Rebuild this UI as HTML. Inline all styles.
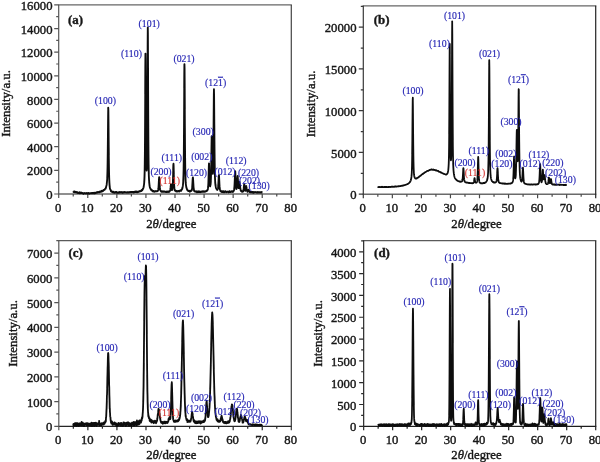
<!DOCTYPE html>
<html><head><meta charset="utf-8"><title>XRD patterns</title>
<style>
html,body{margin:0;padding:0;background:#fff;}
body{width:600px;height:462px;overflow:hidden;font-family:"Liberation Serif",serif;}
svg{display:block;}
text{font-family:"Liberation Serif",serif;fill:#161616;stroke:#161616;stroke-width:0.38px;}
.tk text{font-size:12.7px;}
.ax{font-size:12.8px;}
.tag{font-size:12.9px;font-weight:bold;}
.lb{font-size:9.8px;stroke-width:0.15px;}
.b{fill:#2626b4;stroke:#2626b4;}
.r{fill:#d63a36;stroke:#d63a36;}
.ov{text-decoration:overline;}
</style></head><body>
<svg width="600" height="462" viewBox="0 0 600 462">
<defs><filter id="sf" x="-5%" y="-5%" width="110%" height="110%"><feGaussianBlur stdDeviation="0.32"/></filter></defs>
<rect width="600" height="462" fill="#fff"/>
<g filter="url(#sf)"><g fill="none" stroke-width="1.2">
<path d="M58.10 4.90H291.90" stroke="#666" stroke-width="1.35"/>
<path d="M58.10 194.00H291.90" stroke="#6a6a6a" stroke-width="1.35"/>
<path d="M58.70 4.90V198.00" stroke="#555"/>
<path d="M291.30 4.90V198.00" stroke="#444"/>
<path d="M73.24 194.00v2.5M87.78 194.00v4.0M102.31 194.00v2.5M116.85 194.00v4.0M131.39 194.00v2.5M145.93 194.00v4.0M160.46 194.00v2.5M175.00 194.00v4.0M189.54 194.00v2.5M204.08 194.00v4.0M218.61 194.00v2.5M233.15 194.00v4.0M247.69 194.00v2.5M262.23 194.00v4.0M276.76 194.00v2.5" stroke="#4a4a4a"/>
<path d="M58.70 194.00h-4.5M58.70 182.18h-2.5M58.70 170.36h-4.5M58.70 158.54h-2.5M58.70 146.72h-4.5M58.70 134.91h-2.5M58.70 123.09h-4.5M58.70 111.27h-2.5M58.70 99.45h-4.5M58.70 87.63h-2.5M58.70 75.81h-4.5M58.70 63.99h-2.5M58.70 52.17h-4.5M58.70 40.35h-2.5M58.70 28.53h-4.5M58.70 16.72h-2.5M58.70 4.90h-4.5" stroke="#555"/>
</g>
<g class="tk">
<text transform="translate(58.10 211.90) scale(1 1.050)" text-anchor="middle">0</text>
<text transform="translate(87.18 211.90) scale(1 1.050)" text-anchor="middle">10</text>
<text transform="translate(116.25 211.90) scale(1 1.050)" text-anchor="middle">20</text>
<text transform="translate(145.33 211.90) scale(1 1.050)" text-anchor="middle">30</text>
<text transform="translate(174.40 211.90) scale(1 1.050)" text-anchor="middle">40</text>
<text transform="translate(203.48 211.90) scale(1 1.050)" text-anchor="middle">50</text>
<text transform="translate(232.55 211.90) scale(1 1.050)" text-anchor="middle">60</text>
<text transform="translate(261.62 211.90) scale(1 1.050)" text-anchor="middle">70</text>
<text transform="translate(290.70 211.90) scale(1 1.050)" text-anchor="middle">80</text>
<text transform="translate(52.50 199.10) scale(1 1.050)" text-anchor="end">0</text>
<text transform="translate(52.50 175.46) scale(1 1.050)" text-anchor="end">2000</text>
<text transform="translate(52.50 151.82) scale(1 1.050)" text-anchor="end">4000</text>
<text transform="translate(52.50 128.19) scale(1 1.050)" text-anchor="end">6000</text>
<text transform="translate(52.50 104.55) scale(1 1.050)" text-anchor="end">8000</text>
<text transform="translate(52.50 80.91) scale(1 1.050)" text-anchor="end">10000</text>
<text transform="translate(52.50 57.27) scale(1 1.050)" text-anchor="end">12000</text>
<text transform="translate(52.50 33.63) scale(1 1.050)" text-anchor="end">14000</text>
<text transform="translate(52.50 10.00) scale(1 1.050)" text-anchor="end">16000</text>
</g>
<text class="ax" transform="translate(171.3 227.5) scale(1 1.050)" text-anchor="middle">2<tspan font-style="italic">θ</tspan>/degree</text>
<text class="ax" transform="translate(10.0 103.5) rotate(-90) scale(1 1.050)" text-anchor="middle">Intensity/a.u.</text>
<polyline points="73.24,191.31 73.35,191.32 73.47,191.81 73.59,191.92 73.70,192.01 73.82,191.81 73.94,191.87 74.05,191.86 74.17,191.93 74.28,192.04 74.40,191.95 74.52,191.80 74.63,191.44 74.75,191.57 74.87,191.76 74.98,192.06 75.10,192.29 75.21,192.14 75.33,192.23 75.45,192.21 75.56,192.38 75.68,192.07 75.80,191.91 75.91,192.04 76.03,192.34 76.15,192.31 76.26,192.22 76.38,192.25 76.49,192.38 76.61,192.28 76.73,191.96 76.84,192.11 76.96,192.30 77.08,192.67 77.19,192.84 77.31,192.90 77.42,192.95 77.54,192.52 77.66,192.44 77.77,192.54 77.89,192.62 78.01,192.67 78.12,192.71 78.24,192.88 78.35,192.93 78.47,192.84 78.59,192.78 78.70,193.01 78.82,192.96 78.94,192.85 79.05,192.48 79.17,192.32 79.29,192.33 79.40,192.27 79.52,192.57 79.63,192.62 79.75,193.06 79.87,193.01 79.98,193.38 80.10,193.03 80.22,192.80 80.33,192.60 80.45,192.52 80.56,192.79 80.68,192.76 80.80,192.98 80.91,193.05 81.03,193.02 81.15,192.81 81.26,192.82 81.38,192.77 81.49,193.05 81.61,192.71 81.73,192.77 81.84,192.68 81.96,192.83 82.08,192.87 82.19,193.14 82.31,193.06 82.43,193.27 82.54,193.08 82.66,193.18 82.77,193.13 82.89,193.15 83.01,193.09 83.12,193.00 83.24,193.14 83.36,193.66 83.47,193.79 83.59,193.76 83.70,193.47 83.82,193.48 83.94,193.36 84.05,193.38 84.17,193.28 84.29,193.25 84.40,193.29 84.52,193.33 84.63,193.15 84.75,192.94 84.87,193.07 84.98,193.36 85.10,193.40 85.22,193.09 85.33,193.07 85.45,193.21 85.57,193.46 85.68,193.41 85.80,193.31 85.91,193.28 86.03,193.39 86.15,193.49 86.26,193.33 86.38,193.40 86.50,193.29 86.61,193.27 86.73,193.13 86.84,193.29 86.96,193.23 87.08,193.38 87.19,193.22 87.31,193.48 87.43,193.62 87.54,193.64 87.66,193.50 87.78,193.29 87.89,193.28 88.01,193.39 88.12,193.47 88.24,193.53 88.36,193.20 88.47,193.00 88.59,193.04 88.71,193.21 88.82,193.36 88.94,193.35 89.05,193.31 89.17,193.31 89.29,193.46 89.40,193.68 89.52,193.59 89.64,193.36 89.75,193.09 89.87,193.18 89.98,193.10 90.10,193.20 90.22,193.12 90.33,193.10 90.45,193.09 90.57,193.17 90.68,193.14 90.80,193.35 90.92,193.23 91.03,193.36 91.15,193.14 91.26,193.23 91.38,193.23 91.50,193.30 91.61,193.07 91.73,193.16 91.85,193.13 91.96,193.28 92.08,193.34 92.19,193.00 92.31,192.97 92.43,192.99 92.54,193.14 92.66,193.26 92.78,193.01 92.89,193.07 93.01,193.01 93.12,193.11 93.24,193.27 93.36,193.20 93.47,193.34 93.59,193.42 93.71,193.41 93.82,193.07 93.94,192.82 94.06,192.58 94.17,192.61 94.29,192.74 94.40,192.96 94.52,193.29 94.64,193.34 94.75,193.44 94.87,193.13 94.99,192.92 95.10,192.85 95.22,192.94 95.33,193.20 95.45,193.13 95.57,193.01 95.68,192.74 95.80,192.81 95.92,192.57 96.03,192.46 96.15,192.36 96.26,192.66 96.38,192.83 96.50,192.78 96.61,192.70 96.73,192.58 96.85,192.48 96.96,192.29 97.08,192.18 97.20,192.27 97.31,192.37 97.43,192.55 97.54,192.59 97.66,192.37 97.78,192.36 97.89,192.01 98.01,192.27 98.13,192.16 98.24,192.25 98.36,192.18 98.47,192.13 98.59,192.28 98.71,192.31 98.82,192.36 98.94,192.38 99.06,192.09 99.17,192.06 99.29,191.74 99.41,192.25 99.52,192.20 99.64,192.32 99.75,191.99 99.87,191.82 99.99,191.78 100.10,191.74 100.22,191.79 100.34,191.49 100.45,191.39 100.57,191.37 100.68,191.74 100.80,191.72 100.92,191.88 101.03,191.81 101.15,191.48 101.27,191.14 101.38,190.99 101.50,191.12 101.61,190.98 101.73,190.94 101.85,190.77 101.96,190.82 102.08,190.83 102.20,190.82 102.31,191.21 102.43,191.25 102.55,191.37 102.66,191.14 102.78,191.03 102.89,191.08 103.01,190.99 103.13,190.56 103.24,190.34 103.36,190.19 103.48,190.30 103.59,190.33 103.71,190.14 103.82,190.18 103.94,189.86 104.06,190.07 104.17,189.92 104.29,190.02 104.41,189.88 104.52,189.74 104.64,189.75 104.75,189.28 104.87,189.22 104.99,188.89 105.10,188.94 105.22,188.73 105.34,188.88 105.45,188.70 105.57,188.69 105.69,188.19 105.80,187.96 105.92,187.53 106.03,187.36 106.15,186.77 106.27,186.16 106.38,185.62 106.50,185.32 106.62,184.94 106.73,184.00 106.85,182.84 106.96,181.89 107.08,180.65 107.20,179.07 107.31,176.40 107.43,172.83 107.55,167.51 107.66,160.50 107.78,150.83 107.89,139.17 108.01,126.03 108.13,114.25 108.24,107.78 108.36,110.52 108.48,121.18 108.59,134.89 108.71,148.00 108.83,158.58 108.94,166.78 109.06,172.73 109.17,177.19 109.29,180.23 109.41,182.83 109.52,184.56 109.64,185.91 109.76,187.08 109.87,187.84 109.99,188.69 110.10,188.93 110.22,189.60 110.34,189.49 110.45,189.77 110.57,189.74 110.69,190.12 110.80,190.53 110.92,191.10 111.04,191.41 111.15,191.27 111.27,191.09 111.38,191.06 111.50,191.15 111.62,191.44 111.73,191.58 111.85,191.52 111.97,191.47 112.08,191.82 112.20,192.15 112.31,192.18 112.43,191.92 112.55,192.04 112.66,192.01 112.78,192.37 112.90,192.18 113.01,192.02 113.13,191.61 113.24,191.93 113.36,192.11 113.48,192.67 113.59,192.47 113.71,192.53 113.83,192.30 113.94,192.31 114.06,192.30 114.18,192.07 114.29,192.11 114.41,192.11 114.52,192.48 114.64,192.66 114.76,192.76 114.87,192.48 114.99,192.35 115.11,192.10 115.22,192.26 115.34,192.30 115.45,192.46 115.57,192.39 115.69,192.30 115.80,192.41 115.92,192.20 116.04,192.31 116.15,192.10 116.27,192.29 116.38,192.07 116.50,192.39 116.62,192.32 116.73,192.57 116.85,192.36 116.97,192.28 117.08,192.37 117.20,192.57 117.32,192.85 117.43,192.67 117.55,192.75 117.66,192.61 117.78,192.81 117.90,192.71 118.01,192.77 118.13,192.56 118.25,192.50 118.36,192.51 118.48,192.57 118.59,192.52 118.71,192.80 118.83,192.85 118.94,192.80 119.06,192.33 119.18,192.02 119.29,191.94 119.41,192.07 119.52,192.45 119.64,192.52 119.76,192.43 119.87,192.15 119.99,192.27 120.11,192.34 120.22,192.40 120.34,192.05 120.46,192.05 120.57,192.22 120.69,192.54 120.80,192.61 120.92,192.63 121.04,192.43 121.15,192.25 121.27,192.08 121.39,192.03 121.50,192.22 121.62,192.26 121.73,192.46 121.85,192.40 121.97,192.29 122.08,192.24 122.20,192.48 122.32,192.67 122.43,192.75 122.55,192.70 122.67,192.77 122.78,192.56 122.90,192.15 123.01,192.11 123.13,192.11 123.25,192.17 123.36,192.25 123.48,192.38 123.60,192.53 123.71,192.36 123.83,192.56 123.94,192.59 124.06,192.48 124.18,192.12 124.29,191.84 124.41,192.01 124.53,191.93 124.64,192.08 124.76,192.21 124.87,192.34 124.99,192.47 125.11,192.23 125.22,192.34 125.34,192.14 125.46,192.17 125.57,192.19 125.69,192.22 125.81,192.21 125.92,192.23 126.04,192.19 126.15,192.27 126.27,192.29 126.39,192.52 126.50,192.65 126.62,192.64 126.74,192.33 126.85,192.26 126.97,192.18 127.08,192.55 127.20,192.51 127.32,192.32 127.43,192.07 127.55,192.06 127.67,192.25 127.78,192.46 127.90,192.48 128.01,192.60 128.13,192.60 128.25,192.46 128.36,192.26 128.48,192.09 128.60,192.14 128.71,192.39 128.83,192.45 128.95,192.55 129.06,192.26 129.18,192.18 129.29,191.96 129.41,192.11 129.53,192.41 129.64,192.38 129.76,192.18 129.88,192.13 129.99,192.23 130.11,192.23 130.22,192.18 130.34,191.97 130.46,192.16 130.57,192.15 130.69,192.20 130.81,192.11 130.92,192.05 131.04,192.11 131.15,192.39 131.27,192.08 131.39,192.28 131.50,192.00 131.62,192.27 131.74,192.11 131.85,192.03 131.97,192.08 132.09,192.03 132.20,192.17 132.32,192.15 132.43,192.27 132.55,192.35 132.67,192.36 132.78,192.21 132.90,192.09 133.02,191.84 133.13,191.90 133.25,192.01 133.36,192.38 133.48,192.52 133.60,192.35 133.71,192.10 133.83,192.11 133.95,192.01 134.06,192.22 134.18,192.27 134.30,192.37 134.41,191.87 134.53,191.65 134.64,191.79 134.76,191.98 134.88,191.94 134.99,191.68 135.11,191.80 135.23,191.98 135.34,192.07 135.46,191.96 135.57,191.65 135.69,191.39 135.81,191.53 135.92,191.79 136.04,192.05 136.16,191.98 136.27,191.84 136.39,191.76 136.50,191.68 136.62,191.56 136.74,191.63 136.85,191.79 136.97,192.14 137.09,192.24 137.20,192.23 137.32,192.25 137.44,192.03 137.55,191.86 137.67,191.66 137.78,191.84 137.90,192.05 138.02,192.10 138.13,191.74 138.25,191.80 138.37,191.65 138.48,191.77 138.60,191.46 138.71,191.50 138.83,191.47 138.95,191.61 139.06,191.48 139.18,191.37 139.30,191.34 139.41,191.49 139.53,191.63 139.64,191.35 139.76,191.05 139.88,190.95 139.99,191.13 140.11,191.41 140.23,191.43 140.34,191.26 140.46,191.22 140.58,191.21 140.69,191.17 140.81,190.86 140.92,190.94 141.04,190.86 141.16,191.09 141.27,190.96 141.39,190.97 141.51,190.57 141.62,190.02 141.74,189.90 141.85,189.94 141.97,190.14 142.09,190.24 142.20,190.09 142.32,190.25 142.44,189.74 142.55,189.50 142.67,189.11 142.78,189.23 142.90,188.99 143.02,188.78 143.13,188.40 143.25,188.23 143.37,188.12 143.48,187.67 143.60,187.14 143.72,186.31 143.83,185.67 143.95,185.10 144.06,184.07 144.18,182.83 144.30,181.11 144.41,179.14 144.53,176.06 144.65,171.46 144.76,164.54 144.88,154.20 144.99,139.07 145.11,118.28 145.23,93.10 145.34,68.11 145.46,53.56 145.58,58.45 145.69,79.25 145.81,104.59 145.93,127.17 146.04,144.29 146.16,156.23 146.27,163.39 146.39,167.72 146.51,169.68 146.62,170.54 146.74,169.84 146.86,167.83 146.97,163.38 147.09,156.16 147.20,144.60 147.32,127.62 147.44,103.78 147.55,74.15 147.67,44.36 147.79,27.40 147.90,34.02 148.02,59.88 148.13,90.95 148.25,118.73 148.37,139.97 148.48,154.77 148.60,164.75 148.72,171.23 148.83,175.50 148.95,178.14 149.07,180.36 149.18,181.83 149.30,183.18 149.41,184.27 149.53,185.29 149.65,186.22 149.76,186.60 149.88,187.40 150.00,187.59 150.11,188.15 150.23,188.18 150.34,188.47 150.46,188.59 150.58,188.95 150.69,189.11 150.81,189.57 150.93,189.68 151.04,189.91 151.16,189.74 151.27,189.81 151.39,189.50 151.51,189.65 151.62,189.75 151.74,190.28 151.86,190.17 151.97,190.59 152.09,190.46 152.21,190.81 152.32,190.89 152.44,191.29 152.55,191.28 152.67,191.01 152.79,190.92 152.90,190.83 153.02,190.90 153.14,190.93 153.25,191.34 153.37,191.30 153.48,191.19 153.60,191.00 153.72,191.32 153.83,191.64 153.95,191.40 154.07,191.26 154.18,191.19 154.30,191.52 154.41,191.37 154.53,191.38 154.65,191.39 154.76,191.68 154.88,191.63 155.00,191.40 155.11,191.24 155.23,191.12 155.35,191.23 155.46,191.20 155.58,191.29 155.69,191.31 155.81,191.20 155.93,191.16 156.04,191.23 156.16,191.34 156.28,191.40 156.39,191.26 156.51,191.24 156.62,191.16 156.74,191.39 156.86,191.34 156.97,191.19 157.09,191.14 157.21,190.94 157.32,191.02 157.44,190.81 157.56,191.16 157.67,190.96 157.79,190.93 157.90,190.59 158.02,190.41 158.14,190.06 158.25,189.59 158.37,189.03 158.49,187.81 158.60,186.12 158.72,184.02 158.83,181.74 158.95,179.58 159.07,177.79 159.18,177.21 159.30,177.64 159.42,179.46 159.53,181.91 159.65,184.52 159.76,186.25 159.88,187.67 160.00,188.71 160.11,189.64 160.23,190.14 160.35,190.32 160.46,190.41 160.58,190.56 160.70,190.69 160.81,191.12 160.93,191.23 161.04,191.41 161.16,191.33 161.28,191.33 161.39,191.30 161.51,191.56 161.63,191.62 161.74,191.89 161.86,191.64 161.97,191.45 162.09,191.25 162.21,191.53 162.32,191.63 162.44,191.67 162.56,191.72 162.67,191.86 162.79,191.84 162.90,191.56 163.02,191.43 163.14,191.46 163.25,191.51 163.37,191.53 163.49,191.62 163.60,191.78 163.72,191.83 163.84,191.87 163.95,191.47 164.07,191.41 164.18,191.37 164.30,191.69 164.42,191.74 164.53,191.78 164.65,191.68 164.77,191.67 164.88,191.54 165.00,191.70 165.11,191.65 165.23,191.64 165.35,191.70 165.46,191.72 165.58,191.80 165.70,191.70 165.81,191.78 165.93,192.04 166.04,191.86 166.16,191.91 166.28,191.83 166.39,191.89 166.51,192.00 166.63,191.72 166.74,191.75 166.86,191.44 166.98,191.58 167.09,191.78 167.21,192.09 167.32,191.88 167.44,191.78 167.56,191.60 167.67,191.58 167.79,191.59 167.91,191.55 168.02,191.77 168.14,191.70 168.25,191.79 168.37,191.81 168.49,191.62 168.60,191.38 168.72,191.66 168.84,192.05 168.95,192.08 169.07,191.70 169.19,191.46 169.30,191.34 169.42,191.51 169.53,191.25 169.65,191.30 169.77,190.92 169.88,190.90 170.00,190.61 170.12,190.40 170.23,190.03 170.35,189.36 170.46,188.39 170.58,187.38 170.70,186.13 170.81,185.03 170.93,184.28 171.05,184.76 171.16,185.75 171.28,187.06 171.39,188.20 171.51,189.04 171.63,189.52 171.74,189.82 171.86,189.74 171.98,189.98 172.09,189.89 172.21,189.99 172.33,189.27 172.44,188.65 172.56,187.75 172.67,186.68 172.79,184.73 172.91,181.98 173.02,177.93 173.14,173.18 173.26,168.16 173.37,164.80 173.49,163.73 173.60,166.36 173.72,170.90 173.84,176.04 173.95,180.15 174.07,183.15 174.19,185.69 174.30,187.31 174.42,188.30 174.53,189.00 174.65,189.65 174.77,190.42 174.88,190.53 175.00,190.53 175.12,190.37 175.23,190.42 175.35,190.45 175.47,190.62 175.58,190.68 175.70,191.04 175.81,191.21 175.93,191.34 176.05,191.36 176.16,191.22 176.28,191.11 176.40,190.98 176.51,191.16 176.63,191.44 176.74,191.34 176.86,191.36 176.98,191.26 177.09,191.47 177.21,191.37 177.33,191.24 177.44,191.28 177.56,191.46 177.67,191.42 177.79,191.32 177.91,191.04 178.02,191.22 178.14,191.15 178.26,191.07 178.37,190.88 178.49,191.01 178.61,191.20 178.72,191.30 178.84,191.23 178.95,191.09 179.07,191.21 179.19,191.51 179.30,191.50 179.42,191.29 179.54,190.88 179.65,190.70 179.77,190.66 179.88,190.75 180.00,190.80 180.12,190.87 180.23,190.62 180.35,190.66 180.47,190.54 180.58,190.60 180.70,190.56 180.82,190.73 180.93,190.67 181.05,190.87 181.16,190.52 181.28,190.29 181.40,189.62 181.51,189.49 181.63,189.55 181.75,189.83 181.86,189.43 181.98,189.29 182.09,188.71 182.21,188.95 182.33,188.42 182.44,188.04 182.56,187.22 182.68,186.64 182.79,186.13 182.91,185.44 183.02,184.26 183.14,182.77 183.26,180.92 183.37,178.61 183.49,175.31 183.61,170.06 183.72,162.41 183.84,151.58 183.96,136.86 184.07,117.91 184.19,96.10 184.30,75.48 184.42,64.14 184.54,68.07 184.65,85.10 184.77,106.93 184.89,127.75 185.00,144.75 185.12,157.73 185.23,166.66 185.35,172.85 185.47,177.09 185.58,180.12 185.70,182.44 185.82,183.90 185.93,184.82 186.05,185.58 186.16,186.36 186.28,187.08 186.40,187.44 186.51,187.80 186.63,188.27 186.75,188.80 186.86,188.99 186.98,189.22 187.10,189.45 187.21,189.79 187.33,190.02 187.44,190.00 187.56,190.40 187.68,190.20 187.79,190.48 187.91,190.45 188.03,190.68 188.14,190.92 188.26,190.76 188.37,190.76 188.49,190.68 188.61,190.84 188.72,190.87 188.84,190.92 188.96,190.91 189.07,191.01 189.19,190.76 189.30,190.85 189.42,190.92 189.54,190.99 189.65,191.27 189.77,191.32 189.89,191.71 190.00,191.63 190.12,191.35 190.24,191.08 190.35,190.65 190.47,190.92 190.58,190.86 190.70,191.09 190.82,191.10 190.93,191.14 191.05,191.02 191.17,190.70 191.28,190.64 191.40,190.51 191.51,190.61 191.63,190.39 191.75,190.34 191.86,189.79 191.98,189.31 192.10,188.32 192.21,187.33 192.33,185.59 192.45,183.60 192.56,181.37 192.68,179.32 192.79,177.78 192.91,177.34 193.03,178.32 193.14,180.16 193.26,182.29 193.38,184.38 193.49,186.46 193.61,187.81 193.72,188.61 193.84,189.18 193.96,189.93 194.07,190.79 194.19,190.87 194.31,191.11 194.42,190.75 194.54,191.26 194.65,191.20 194.77,191.41 194.89,191.21 195.00,191.37 195.12,191.47 195.24,191.52 195.35,191.49 195.47,191.56 195.59,191.59 195.70,191.59 195.82,191.51 195.93,191.51 196.05,191.47 196.17,191.68 196.28,191.53 196.40,191.72 196.52,191.52 196.63,192.02 196.75,191.98 196.86,192.31 196.98,191.81 197.10,191.67 197.21,191.64 197.33,191.85 197.45,191.72 197.56,191.56 197.68,191.43 197.79,191.79 197.91,191.98 198.03,191.98 198.14,191.50 198.26,191.38 198.38,191.38 198.49,191.79 198.61,191.57 198.73,191.70 198.84,191.64 198.96,192.04 199.07,192.03 199.19,191.96 199.31,191.54 199.42,191.64 199.54,191.54 199.66,191.76 199.77,191.64 199.89,191.89 200.00,192.06 200.12,192.17 200.24,191.85 200.35,191.78 200.47,191.68 200.59,191.75 200.70,191.86 200.82,191.75 200.93,191.95 201.05,191.66 201.17,191.61 201.28,191.56 201.40,191.60 201.52,191.62 201.63,191.51 201.75,191.57 201.87,191.68 201.98,191.93 202.10,191.67 202.21,191.80 202.33,191.60 202.45,191.53 202.56,191.27 202.68,191.33 202.80,191.63 202.91,191.80 203.03,191.64 203.14,191.50 203.26,191.41 203.38,191.19 203.49,191.33 203.61,191.38 203.73,191.74 203.84,191.60 203.96,191.48 204.08,191.46 204.19,191.38 204.31,191.34 204.42,191.32 204.54,191.71 204.66,191.66 204.77,191.73 204.89,191.48 205.01,191.58 205.12,191.60 205.24,191.59 205.35,191.54 205.47,191.41 205.59,191.24 205.70,191.32 205.82,191.28 205.94,191.41 206.05,191.30 206.17,191.19 206.28,191.04 206.40,191.13 206.52,191.13 206.63,191.01 206.75,190.61 206.87,190.50 206.98,190.47 207.10,190.65 207.22,190.26 207.33,190.18 207.45,189.99 207.56,190.04 207.68,189.88 207.80,189.25 207.91,188.72 208.03,187.74 208.15,186.96 208.26,185.50 208.38,183.18 208.49,179.78 208.61,175.29 208.73,170.53 208.84,166.25 208.96,163.51 209.08,163.58 209.19,166.06 209.31,170.48 209.42,174.86 209.54,178.85 209.66,181.64 209.77,183.48 209.89,184.74 210.01,185.73 210.12,186.30 210.24,185.99 210.36,185.42 210.47,184.78 210.59,184.22 210.70,182.77 210.82,180.71 210.94,177.73 211.05,173.94 211.17,168.70 211.29,162.11 211.40,154.29 211.52,146.13 211.63,139.52 211.75,136.12 211.87,137.18 211.98,141.83 212.10,148.87 212.22,156.24 212.33,162.76 212.45,167.73 212.56,171.30 212.68,173.36 212.80,173.88 212.91,173.00 213.03,170.63 213.15,166.56 213.26,160.28 213.38,151.19 213.50,138.89 213.61,123.87 213.73,107.73 213.84,94.52 213.96,89.28 214.08,94.91 214.19,108.75 214.31,125.12 214.43,140.58 214.54,152.98 214.66,162.82 214.77,169.86 214.89,175.06 215.01,178.42 215.12,180.82 215.24,182.56 215.36,183.93 215.47,185.02 215.59,185.71 215.71,186.43 215.82,187.00 215.94,187.61 216.05,188.08 216.17,188.40 216.29,188.57 216.40,188.79 216.52,188.81 216.64,189.13 216.75,189.08 216.87,189.34 216.98,189.55 217.10,189.71 217.22,189.99 217.33,189.80 217.45,189.68 217.57,189.18 217.68,188.93 217.80,188.97 217.91,188.86 218.03,188.16 218.15,187.00 218.26,185.38 218.38,183.82 218.50,181.61 218.61,179.42 218.73,176.93 218.85,175.15 218.96,175.13 219.08,176.60 219.19,179.22 219.31,181.66 219.43,184.18 219.54,186.14 219.66,187.41 219.78,188.55 219.89,189.16 220.01,189.71 220.12,189.83 220.24,189.95 220.36,190.70 220.47,190.93 220.59,191.41 220.71,191.18 220.82,191.24 220.94,191.10 221.05,191.22 221.17,191.15 221.29,191.46 221.40,191.28 221.52,191.46 221.64,191.52 221.75,191.90 221.87,192.12 221.99,192.05 222.10,191.83 222.22,191.47 222.33,191.26 222.45,191.46 222.57,191.94 222.68,192.09 222.80,192.12 222.92,191.87 223.03,191.93 223.15,191.44 223.26,191.65 223.38,191.54 223.50,191.64 223.61,191.48 223.73,191.63 223.85,191.66 223.96,191.89 224.08,192.02 224.19,192.39 224.31,192.08 224.43,191.77 224.54,191.64 224.66,191.42 224.78,191.55 224.89,191.54 225.01,191.86 225.13,191.68 225.24,191.69 225.36,191.70 225.47,191.65 225.59,191.49 225.71,191.31 225.82,191.69 225.94,191.99 226.06,192.15 226.17,192.03 226.29,191.95 226.40,191.95 226.52,191.83 226.64,191.91 226.75,191.85 226.87,191.98 226.99,191.92 227.10,191.99 227.22,191.84 227.34,191.75 227.45,191.81 227.57,191.86 227.68,191.88 227.80,191.73 227.92,191.80 228.03,191.69 228.15,191.70 228.27,191.81 228.38,192.09 228.50,192.32 228.61,192.12 228.73,192.05 228.85,191.91 228.96,191.97 229.08,191.72 229.20,191.40 229.31,191.40 229.43,191.30 229.54,191.51 229.66,191.34 229.78,191.62 229.89,191.84 230.01,191.93 230.13,191.73 230.24,191.76 230.36,191.83 230.48,191.96 230.59,191.68 230.71,191.80 230.82,191.89 230.94,191.84 231.06,191.46 231.17,191.37 231.29,191.35 231.41,191.55 231.52,191.49 231.64,191.65 231.75,191.69 231.87,191.80 231.99,191.71 232.10,191.52 232.22,191.40 232.34,191.30 232.45,191.49 232.57,191.39 232.68,191.83 232.80,191.89 232.92,191.97 233.03,191.74 233.15,191.42 233.27,191.27 233.38,191.06 233.50,191.00 233.62,191.08 233.73,190.91 233.85,190.74 233.96,190.45 234.08,189.77 234.20,189.18 234.31,187.92 234.43,186.75 234.55,184.80 234.66,182.65 234.78,179.74 234.89,176.60 235.01,173.45 235.13,171.32 235.24,171.30 235.36,173.20 235.48,176.26 235.59,179.24 235.71,182.09 235.82,184.49 235.94,186.40 236.06,187.60 236.17,188.30 236.29,188.77 236.41,189.01 236.52,188.95 236.64,188.65 236.76,188.23 236.87,187.46 236.99,186.22 237.10,184.48 237.22,182.47 237.34,180.30 237.45,178.07 237.57,176.45 237.69,176.00 237.80,177.30 237.92,179.37 238.03,181.64 238.15,183.47 238.27,185.21 238.38,186.46 238.50,187.46 238.62,187.88 238.73,188.14 238.85,187.49 238.97,186.37 239.08,184.83 239.20,183.89 239.31,183.00 239.43,182.32 239.55,181.98 239.66,182.69 239.78,183.56 239.90,184.74 240.01,185.78 240.13,186.90 240.24,187.81 240.36,188.49 240.48,189.16 240.59,189.74 240.71,190.35 240.83,190.72 240.94,190.91 241.06,190.84 241.17,191.00 241.29,191.18 241.41,191.34 241.52,191.49 241.64,191.47 241.76,191.51 241.87,191.45 241.99,191.42 242.11,191.59 242.22,191.56 242.34,191.77 242.45,191.32 242.57,191.48 242.69,191.28 242.80,191.35 242.92,191.21 243.04,191.26 243.15,191.45 243.27,191.13 243.38,190.53 243.50,189.68 243.62,188.91 243.73,188.05 243.85,186.98 243.97,185.71 244.08,184.86 244.20,184.11 244.31,184.68 244.43,185.29 244.55,186.61 244.66,187.53 244.78,188.58 244.90,189.45 245.01,189.89 245.13,190.54 245.25,190.66 245.36,190.78 245.48,190.24 245.59,189.79 245.71,189.03 245.83,188.02 245.94,187.16 246.06,186.18 246.18,185.98 246.29,186.04 246.41,186.91 246.52,187.54 246.64,188.47 246.76,189.16 246.87,190.03 246.99,190.37 247.11,190.74 247.22,190.96 247.34,191.47 247.45,191.77 247.57,191.89 247.69,191.45 247.80,191.08 247.92,190.86 248.04,190.55 248.15,190.43 248.27,190.29 248.39,190.18 248.50,189.86 248.62,189.59 248.73,189.99 248.85,190.25 248.97,190.61 249.08,190.80 249.20,191.17 249.32,191.30 249.43,191.54 249.55,191.88 249.66,191.94 249.78,192.24 249.90,192.12 250.01,192.23 250.13,191.91 250.25,192.03 250.36,192.06 250.48,192.04 250.60,192.14 250.71,192.17 250.83,192.24 250.94,192.27 251.06,192.41 251.18,192.27 251.29,191.98 251.41,191.97 251.53,192.08 251.64,192.17 251.76,191.90 251.87,191.86 251.99,192.22 252.11,192.44 252.22,192.41 252.34,191.91 252.46,191.95 252.57,192.28 252.69,192.46 252.80,192.47 252.92,192.32 253.04,192.50 253.15,192.33 253.27,192.26 253.39,192.06 253.50,192.29 253.62,192.58 253.74,192.80 253.85,192.61 253.97,192.62 254.08,192.38 254.20,192.22 254.32,192.08 254.43,192.19 254.55,192.29 254.67,192.10 254.78,192.15 254.90,192.30 255.01,192.40 255.13,192.36 255.25,192.27 255.36,192.24 255.48,192.05 255.60,192.34 255.71,192.23 255.83,192.30 255.94,192.10 256.06,192.20 256.18,192.18 256.29,192.13 256.41,192.21 256.53,192.30 256.64,192.43 256.76,192.57 256.88,192.71 256.99,192.73 257.11,192.54 257.22,192.33 257.34,192.20 257.46,192.04 257.57,192.16 257.69,192.27 257.81,192.55 257.92,192.65 258.04,192.61 258.15,192.35 258.27,192.42 258.39,192.31 258.50,192.49 258.62,192.20 258.74,192.33 258.85,192.24 258.97,192.40 259.08,192.27 259.20,192.61 259.32,192.48 259.43,192.47 259.55,192.42 259.67,192.38 259.78,192.62 259.90,192.29 260.02,192.40 260.13,192.17 260.25,192.25 260.36,192.40 260.48,192.29 260.60,192.19 260.71,192.16 260.83,192.29 260.95,192.39 261.06,192.34 261.18,192.55 261.29,192.44 261.41,192.41 261.53,192.16 261.64,192.09 261.76,191.98 261.88,192.20 261.99,192.32 262.11,192.55 262.23,192.45" fill="none" stroke="#0a0a0a" stroke-width="1.85" stroke-linejoin="round"/>
<text class="tag" x="75.6" y="24.2" text-anchor="middle">(a)</text>
<text class="lb b" x="105.4" y="104.1" text-anchor="middle">(100)</text>
<text class="lb b" x="131.5" y="57.2" text-anchor="middle">(110)</text>
<text class="lb b" x="149.2" y="27.4" text-anchor="middle">(101)</text>
<text class="lb b" x="184.0" y="62.0" text-anchor="middle">(021)</text>
<text class="lb b" x="215.6" y="85.8" text-anchor="middle">(12<tspan class="ov">1</tspan>)</text>
<text class="lb b" x="203.2" y="134.7" text-anchor="middle">(300)</text>
<text class="lb b" x="171.8" y="161.0" text-anchor="middle">(111)</text>
<text class="lb b" x="201.8" y="159.5" text-anchor="middle">(002)</text>
<text class="lb b" x="236.2" y="164.1" text-anchor="middle">(112)</text>
<text class="lb b" x="161.0" y="174.8" text-anchor="middle">(200)</text>
<text class="lb b" x="196.5" y="175.7" text-anchor="middle">(120)</text>
<text class="lb b" x="225.0" y="174.7" text-anchor="middle">(012)</text>
<text class="lb b" x="248.5" y="175.7" text-anchor="middle">(220)</text>
<text class="lb r" x="169.8" y="183.6" text-anchor="middle">(111)</text>
<text class="lb b" x="249.5" y="183.6" text-anchor="middle">(202)</text>
<text class="lb b" x="259.1" y="189.0" text-anchor="middle">(130)</text>
<g fill="none" stroke-width="1.2">
<path d="M362.70 5.80H596.30" stroke="#666" stroke-width="1.35"/>
<path d="M362.70 194.20H596.30" stroke="#6a6a6a" stroke-width="1.35"/>
<path d="M363.30 5.80V198.20" stroke="#383838"/>
<path d="M595.70 5.80V198.20" stroke="#262626"/>
<path d="M377.82 194.20v2.5M392.35 194.20v4.0M406.88 194.20v2.5M421.40 194.20v4.0M435.93 194.20v2.5M450.45 194.20v4.0M464.98 194.20v2.5M479.50 194.20v4.0M494.03 194.20v2.5M508.55 194.20v4.0M523.08 194.20v2.5M537.60 194.20v4.0M552.12 194.20v2.5M566.65 194.20v4.0M581.18 194.20v2.5" stroke="#4a4a4a"/>
<path d="M363.30 194.20h-4.5M363.30 173.32h-2.5M363.30 152.45h-4.5M363.30 131.57h-2.5M363.30 110.70h-4.5M363.30 89.82h-2.5M363.30 68.95h-4.5M363.30 48.07h-2.5M363.30 27.20h-4.5M363.30 6.32h-2.5" stroke="#383838"/>
</g>
<g class="tk">
<text transform="translate(362.70 211.50) scale(1 1.050)" text-anchor="middle">0</text>
<text transform="translate(391.75 211.50) scale(1 1.050)" text-anchor="middle">10</text>
<text transform="translate(420.80 211.50) scale(1 1.050)" text-anchor="middle">20</text>
<text transform="translate(449.85 211.50) scale(1 1.050)" text-anchor="middle">30</text>
<text transform="translate(478.90 211.50) scale(1 1.050)" text-anchor="middle">40</text>
<text transform="translate(507.95 211.50) scale(1 1.050)" text-anchor="middle">50</text>
<text transform="translate(537.00 211.50) scale(1 1.050)" text-anchor="middle">60</text>
<text transform="translate(566.05 211.50) scale(1 1.050)" text-anchor="middle">70</text>
<text transform="translate(595.10 211.50) scale(1 1.050)" text-anchor="middle">80</text>
<text transform="translate(356.50 199.30) scale(1 1.050)" text-anchor="end">0</text>
<text transform="translate(356.50 157.55) scale(1 1.050)" text-anchor="end">5000</text>
<text transform="translate(356.50 115.80) scale(1 1.050)" text-anchor="end">10000</text>
<text transform="translate(356.50 74.05) scale(1 1.050)" text-anchor="end">15000</text>
<text transform="translate(356.50 32.30) scale(1 1.050)" text-anchor="end">20000</text>
</g>
<text class="ax" transform="translate(476.5 227.5) scale(1 1.050)" text-anchor="middle">2<tspan font-style="italic">θ</tspan>/degree</text>
<text class="ax" transform="translate(314.5 104.0) rotate(-90) scale(1 1.050)" text-anchor="middle">Intensity/a.u.</text>
<polyline points="377.82,186.88 377.94,186.92 378.06,186.85 378.17,187.07 378.29,187.03 378.41,187.04 378.52,187.12 378.64,187.15 378.75,187.13 378.87,186.94 378.99,186.89 379.10,186.97 379.22,187.00 379.34,187.04 379.45,187.03 379.57,187.05 379.68,186.91 379.80,186.91 379.92,186.86 380.03,186.97 380.15,187.00 380.27,187.10 380.38,187.12 380.50,187.07 380.61,187.01 380.73,187.05 380.85,187.08 380.96,187.04 381.08,186.99 381.19,186.98 381.31,187.03 381.43,186.93 381.54,186.92 381.66,187.00 381.78,187.05 381.89,186.91 382.01,186.76 382.12,186.89 382.24,187.10 382.36,187.10 382.47,187.04 382.59,186.90 382.71,186.98 382.82,186.88 382.94,186.90 383.05,186.91 383.17,186.99 383.29,187.06 383.40,187.04 383.52,187.05 383.63,187.10 383.75,187.17 383.87,187.23 383.98,187.20 384.10,187.12 384.22,187.00 384.33,186.89 384.45,186.99 384.56,187.15 384.68,187.12 384.80,187.06 384.91,186.97 385.03,187.08 385.15,187.18 385.26,187.05 385.38,187.02 385.49,186.92 385.61,187.10 385.73,186.98 385.84,186.99 385.96,186.94 386.08,187.02 386.19,187.00 386.31,186.92 386.42,187.02 386.54,186.98 386.66,187.09 386.77,187.01 386.89,187.08 387.00,187.02 387.12,187.07 387.24,187.06 387.35,187.06 387.47,187.02 387.59,187.01 387.70,187.02 387.82,186.98 387.93,186.97 388.05,186.98 388.17,187.03 388.28,186.97 388.40,187.02 388.52,187.06 388.63,187.08 388.75,187.08 388.86,187.05 388.98,187.08 389.10,186.96 389.21,186.93 389.33,186.94 389.45,187.00 389.56,186.95 389.68,186.95 389.79,186.90 389.91,186.85 390.03,186.83 390.14,186.85 390.26,186.97 390.37,186.99 390.49,187.03 390.61,187.04 390.72,187.02 390.84,186.93 390.96,186.84 391.07,186.83 391.19,186.82 391.30,186.91 391.42,186.77 391.54,186.65 391.65,186.58 391.77,186.66 391.89,186.78 392.00,186.73 392.12,186.78 392.23,186.86 392.35,186.85 392.47,186.87 392.58,186.76 392.70,186.85 392.81,186.83 392.93,186.79 393.05,186.64 393.16,186.60 393.28,186.67 393.40,186.73 393.51,186.75 393.63,186.81 393.74,186.82 393.86,186.90 393.98,186.78 394.09,186.79 394.21,186.66 394.33,186.75 394.44,186.75 394.56,186.72 394.67,186.56 394.79,186.47 394.91,186.47 395.02,186.59 395.14,186.60 395.26,186.60 395.37,186.55 395.49,186.50 395.60,186.54 395.72,186.42 395.84,186.51 395.95,186.49 396.07,186.58 396.18,186.61 396.30,186.59 396.42,186.56 396.53,186.57 396.65,186.58 396.77,186.65 396.88,186.57 397.00,186.45 397.11,186.39 397.23,186.37 397.35,186.40 397.46,186.43 397.58,186.39 397.70,186.42 397.81,186.38 397.93,186.47 398.04,186.47 398.16,186.36 398.28,186.20 398.39,186.16 398.51,186.20 398.62,186.28 398.74,186.31 398.86,186.39 398.97,186.26 399.09,186.24 399.21,186.12 399.32,186.12 399.44,186.07 399.55,186.07 399.67,186.13 399.79,186.11 399.90,186.07 400.02,186.09 400.14,185.99 400.25,185.96 400.37,185.99 400.48,186.11 400.60,186.15 400.72,186.10 400.83,186.05 400.95,185.95 401.07,185.94 401.18,185.91 401.30,185.93 401.41,185.98 401.53,185.91 401.65,185.87 401.76,185.67 401.88,185.72 401.99,185.76 402.11,185.80 402.23,185.75 402.34,185.78 402.46,185.72 402.58,185.69 402.69,185.58 402.81,185.66 402.92,185.57 403.04,185.58 403.16,185.54 403.27,185.52 403.39,185.42 403.51,185.41 403.62,185.37 403.74,185.32 403.85,185.23 403.97,185.33 404.09,185.35 404.20,185.28 404.32,185.23 404.43,185.14 404.55,185.18 404.67,185.10 404.78,185.09 404.90,185.04 405.02,184.93 405.13,184.95 405.25,184.90 405.36,184.93 405.48,184.87 405.60,184.82 405.71,184.76 405.83,184.74 405.95,184.68 406.06,184.67 406.18,184.54 406.29,184.51 406.41,184.46 406.53,184.51 406.64,184.49 406.76,184.36 406.88,184.26 406.99,184.16 407.11,184.18 407.22,184.15 407.34,184.18 407.46,184.22 407.57,184.12 407.69,184.02 407.80,183.85 407.92,183.76 408.04,183.75 408.15,183.58 408.27,183.63 408.39,183.48 408.50,183.56 408.62,183.41 408.73,183.28 408.85,183.21 408.97,183.09 409.08,183.05 409.20,182.85 409.32,182.74 409.43,182.59 409.55,182.45 409.66,182.31 409.78,182.17 409.90,182.01 410.01,181.87 410.13,181.80 410.24,181.60 410.36,181.39 410.48,180.99 410.59,180.78 410.71,180.52 410.83,180.19 410.94,179.78 411.06,179.32 411.17,178.74 411.29,178.10 411.41,177.10 411.52,176.14 411.64,174.63 411.76,172.71 411.87,169.92 411.99,165.79 412.10,159.78 412.22,151.19 412.34,139.92 412.45,126.10 412.57,111.64 412.69,100.46 412.80,97.73 412.92,105.04 413.03,118.34 413.15,132.82 413.27,145.36 413.38,155.13 413.50,162.10 413.61,166.88 413.73,169.98 413.85,172.24 413.96,173.80 414.08,174.99 414.20,175.70 414.31,176.23 414.43,176.75 414.54,177.19 414.66,177.44 414.78,177.64 414.89,177.84 415.01,178.12 415.13,178.27 415.24,178.38 415.36,178.39 415.47,178.43 415.59,178.40 415.71,178.50 415.82,178.43 415.94,178.41 416.05,178.41 416.17,178.59 416.29,178.61 416.40,178.50 416.52,178.27 416.64,178.23 416.75,178.33 416.87,178.35 416.98,178.23 417.10,178.02 417.22,177.99 417.33,177.92 417.45,177.99 417.57,177.95 417.68,177.91 417.80,177.76 417.91,177.59 418.03,177.41 418.15,177.39 418.26,177.24 418.38,177.26 418.50,177.13 418.61,177.07 418.73,177.07 418.84,177.04 418.96,177.06 419.08,176.84 419.19,176.61 419.31,176.42 419.42,176.39 419.54,176.32 419.66,176.31 419.77,176.09 419.89,176.06 420.01,175.89 420.12,175.93 420.24,175.79 420.35,175.83 420.47,175.68 420.59,175.72 420.70,175.57 420.82,175.53 420.94,175.41 421.05,175.30 421.17,175.14 421.28,174.99 421.40,174.91 421.52,174.83 421.63,174.68 421.75,174.56 421.86,174.49 421.98,174.36 422.10,174.36 422.21,174.25 422.33,174.33 422.45,174.09 422.56,174.05 422.68,173.90 422.79,173.86 422.91,173.77 423.03,173.73 423.14,173.82 423.26,173.73 423.38,173.49 423.49,173.29 423.61,173.10 423.72,173.08 423.84,173.02 423.96,173.10 424.07,173.07 424.19,172.93 424.31,172.78 424.42,172.67 424.54,172.59 424.65,172.52 424.77,172.52 424.89,172.49 425.00,172.36 425.12,172.25 425.23,172.21 425.35,172.21 425.47,172.11 425.58,171.98 425.70,171.86 425.82,171.84 425.93,171.77 426.05,171.73 426.16,171.64 426.28,171.68 426.40,171.64 426.51,171.56 426.63,171.40 426.75,171.26 426.86,171.17 426.98,171.11 427.09,171.14 427.21,171.05 427.33,170.97 427.44,170.82 427.56,170.84 427.67,170.84 427.79,170.86 427.91,170.85 428.02,170.81 428.14,170.82 428.26,170.80 428.37,170.70 428.49,170.54 428.60,170.35 428.72,170.35 428.84,170.34 428.95,170.30 429.07,170.26 429.19,170.32 429.30,170.18 429.42,170.06 429.53,169.84 429.65,169.91 429.77,169.98 429.88,170.00 430.00,169.96 430.12,169.95 430.23,169.95 430.35,169.90 430.46,169.72 430.58,169.63 430.70,169.65 430.81,169.78 430.93,169.68 431.04,169.63 431.16,169.50 431.28,169.60 431.39,169.66 431.51,169.57 431.63,169.53 431.74,169.39 431.86,169.55 431.97,169.58 432.09,169.58 432.21,169.56 432.32,169.60 432.44,169.74 432.56,169.81 432.67,169.73 432.79,169.69 432.90,169.73 433.02,169.70 433.14,169.65 433.25,169.51 433.37,169.70 433.48,169.79 433.60,169.80 433.72,169.78 433.83,169.85 433.95,169.95 434.07,170.03 434.18,170.00 434.30,169.96 434.41,169.84 434.53,169.80 434.65,169.88 434.76,169.94 434.88,170.06 435.00,170.13 435.11,170.22 435.23,170.27 435.34,170.27 435.46,170.27 435.58,170.25 435.69,170.27 435.81,170.24 435.93,170.30 436.04,170.45 436.16,170.56 436.27,170.47 436.39,170.35 436.51,170.35 436.62,170.51 436.74,170.59 436.85,170.63 436.97,170.65 437.09,170.66 437.20,170.61 437.32,170.69 437.44,170.79 437.55,170.92 437.67,170.94 437.78,170.92 437.90,171.00 438.02,170.93 438.13,171.01 438.25,170.97 438.37,171.19 438.48,171.29 438.60,171.44 438.71,171.44 438.83,171.59 438.95,171.59 439.06,171.74 439.18,171.67 439.29,171.70 439.41,171.68 439.53,171.77 439.64,171.89 439.76,171.96 439.88,171.99 439.99,172.00 440.11,172.01 440.22,172.00 440.34,172.10 440.46,172.23 440.57,172.39 440.69,172.52 440.81,172.57 440.92,172.64 441.04,172.53 441.15,172.54 441.27,172.47 441.39,172.72 441.50,172.79 441.62,172.88 441.74,172.82 441.85,172.91 441.97,173.01 442.08,173.07 442.20,173.09 442.32,173.14 442.43,173.15 442.55,173.20 442.66,173.25 442.78,173.36 442.90,173.40 443.01,173.50 443.13,173.53 443.25,173.62 443.36,173.59 443.48,173.70 443.59,173.74 443.71,173.84 443.83,173.91 443.94,173.90 444.06,173.92 444.18,173.91 444.29,173.95 444.41,174.03 444.52,174.07 444.64,174.12 444.76,174.01 444.87,174.04 444.99,174.05 445.10,174.20 445.22,174.27 445.34,174.35 445.45,174.32 445.57,174.28 445.69,174.29 445.80,174.42 445.92,174.56 446.03,174.56 446.15,174.57 446.27,174.44 446.38,174.46 446.50,174.33 446.62,174.23 446.73,174.22 446.85,174.16 446.96,174.12 447.08,173.84 447.20,173.68 447.31,173.55 447.43,173.44 447.55,173.10 447.66,172.81 447.78,172.42 447.89,172.07 448.01,171.56 448.13,170.96 448.24,170.29 448.36,169.28 448.47,167.92 448.59,166.11 448.71,163.81 448.82,160.33 448.94,155.17 449.06,147.06 449.17,134.92 449.29,117.59 449.40,95.09 449.52,69.81 449.64,49.05 449.75,43.83 449.87,57.82 449.99,81.78 450.10,105.82 450.22,125.21 450.33,139.31 450.45,148.66 450.57,154.63 450.68,158.06 450.80,159.76 450.91,160.29 451.03,159.90 451.15,158.56 451.26,155.87 451.38,151.12 451.50,143.33 451.61,131.07 451.73,112.86 451.84,88.24 451.96,59.02 452.08,32.49 452.19,21.28 452.31,33.13 452.43,60.17 452.54,89.73 452.66,114.90 452.77,133.82 452.89,146.95 453.01,155.61 453.12,161.29 453.24,165.06 453.36,167.80 453.47,169.71 453.59,171.25 453.70,172.40 453.82,173.43 453.94,174.28 454.05,174.85 454.17,175.50 454.28,175.97 454.40,176.47 454.52,176.85 454.63,177.27 454.75,177.58 454.87,177.84 454.98,178.08 455.10,178.41 455.21,178.57 455.33,178.64 455.45,178.77 455.56,178.95 455.68,179.12 455.80,179.19 455.91,179.38 456.03,179.54 456.14,179.68 456.26,179.63 456.38,179.76 456.49,179.84 456.61,180.03 456.72,180.10 456.84,180.29 456.96,180.40 457.07,180.44 457.19,180.48 457.31,180.56 457.42,180.75 457.54,180.78 457.65,180.84 457.77,180.83 457.89,180.92 458.00,181.02 458.12,181.13 458.24,181.15 458.35,181.17 458.47,181.07 458.58,181.16 458.70,181.17 458.82,181.36 458.93,181.38 459.05,181.40 459.17,181.38 459.28,181.36 459.40,181.51 459.51,181.42 459.63,181.37 459.75,181.36 459.86,181.58 459.98,181.75 460.09,181.71 460.21,181.71 460.33,181.67 460.44,181.73 460.56,181.54 460.68,181.58 460.79,181.57 460.91,181.60 461.02,181.57 461.14,181.53 461.26,181.62 461.37,181.59 461.49,181.57 461.61,181.52 461.72,181.52 461.84,181.49 461.95,181.41 462.07,181.23 462.19,180.87 462.30,180.53 462.42,180.10 462.53,179.49 462.65,178.48 462.77,177.22 462.88,175.48 463.00,173.51 463.12,171.23 463.23,169.28 463.35,168.16 463.46,168.44 463.58,170.00 463.70,172.14 463.81,174.37 463.93,176.34 464.05,178.02 464.16,179.15 464.28,179.96 464.39,180.57 464.51,181.11 464.63,181.42 464.74,181.54 464.86,181.68 464.98,181.79 465.09,182.00 465.21,182.08 465.32,182.16 465.44,182.19 465.56,182.23 465.67,182.33 465.79,182.36 465.90,182.51 466.02,182.56 466.14,182.57 466.25,182.49 466.37,182.47 466.49,182.45 466.60,182.51 466.72,182.58 466.83,182.56 466.95,182.52 467.07,182.53 467.18,182.65 467.30,182.66 467.42,182.62 467.53,182.63 467.65,182.68 467.76,182.75 467.88,182.76 468.00,182.70 468.11,182.78 468.23,182.76 468.34,182.92 468.46,182.91 468.58,182.92 468.69,182.94 468.81,182.97 468.93,183.09 469.04,183.06 469.16,183.01 469.27,182.90 469.39,182.92 469.51,182.90 469.62,183.03 469.74,182.90 469.86,182.98 469.97,182.96 470.09,183.07 470.20,183.05 470.32,183.04 470.44,183.16 470.55,183.13 470.67,183.09 470.79,183.03 470.90,183.15 471.02,183.18 471.13,183.11 471.25,183.15 471.37,183.23 471.48,183.29 471.60,183.25 471.71,183.21 471.83,183.22 471.95,183.15 472.06,183.09 472.18,183.03 472.30,183.03 472.41,183.10 472.53,183.27 472.64,183.29 472.76,183.23 472.88,183.07 472.99,183.10 473.11,183.00 473.23,183.07 473.34,182.95 473.46,182.94 473.57,182.69 473.69,182.47 473.81,182.19 473.92,181.77 474.04,181.23 474.15,180.41 474.27,179.49 474.39,178.55 474.50,178.08 474.62,178.18 474.74,178.77 474.85,179.55 474.97,180.46 475.08,181.31 475.20,181.96 475.32,182.30 475.43,182.50 475.55,182.59 475.67,182.70 475.78,182.74 475.90,182.73 476.01,182.72 476.13,182.59 476.25,182.63 476.36,182.53 476.48,182.66 476.60,182.52 476.71,182.40 476.83,182.14 476.94,181.85 477.06,181.50 477.18,180.89 477.29,180.15 477.41,178.80 477.52,176.78 477.64,173.86 477.76,170.10 477.87,165.77 477.99,161.26 478.11,157.75 478.22,156.84 478.34,159.03 478.45,163.34 478.57,167.97 478.69,172.16 478.80,175.39 478.92,177.79 479.04,179.44 479.15,180.47 479.27,181.20 479.38,181.58 479.50,182.06 479.62,182.37 479.73,182.62 479.85,182.66 479.96,182.66 480.08,182.72 480.20,182.83 480.31,182.93 480.43,183.02 480.55,183.06 480.66,183.10 480.78,183.16 480.89,183.18 481.01,183.30 481.13,183.33 481.24,183.33 481.36,183.30 481.48,183.24 481.59,183.27 481.71,183.25 481.82,183.20 481.94,183.19 482.06,183.21 482.17,183.31 482.29,183.33 482.41,183.37 482.52,183.27 482.64,183.27 482.75,183.28 482.87,183.38 482.99,183.29 483.10,183.17 483.22,182.99 483.33,183.04 483.45,183.01 483.57,183.00 483.68,182.87 483.80,182.92 483.92,182.95 484.03,183.09 484.15,183.03 484.26,183.14 484.38,183.02 484.50,183.01 484.61,182.92 484.73,182.81 484.85,182.66 484.96,182.58 485.08,182.72 485.19,182.70 485.31,182.74 485.43,182.63 485.54,182.54 485.66,182.30 485.77,182.15 485.89,182.05 486.01,181.97 486.12,181.90 486.24,181.81 486.36,181.58 486.47,181.38 486.59,181.18 486.70,181.04 486.82,180.87 486.94,180.67 487.05,180.47 487.17,180.02 487.29,179.56 487.40,179.05 487.52,178.54 487.63,177.78 487.75,176.80 487.87,175.64 487.98,174.30 488.10,172.48 488.22,169.95 488.33,166.25 488.45,160.86 488.56,152.94 488.68,141.65 488.80,126.27 488.91,106.93 489.03,85.72 489.14,67.55 489.26,60.08 489.38,67.51 489.49,85.71 489.61,106.99 489.73,126.24 489.84,141.51 489.96,152.66 490.07,160.63 490.19,166.06 490.31,169.91 490.42,172.40 490.54,174.22 490.66,175.55 490.77,176.67 490.89,177.60 491.00,178.26 491.12,178.77 491.24,179.19 491.35,179.62 491.47,180.02 491.58,180.27 491.70,180.60 491.82,180.84 491.93,181.15 492.05,181.29 492.17,181.25 492.28,181.33 492.40,181.43 492.51,181.59 492.63,181.71 492.75,181.88 492.86,182.07 492.98,182.14 493.10,182.22 493.21,182.25 493.33,182.28 493.44,182.13 493.56,182.12 493.68,182.15 493.79,182.32 493.91,182.43 494.03,182.56 494.14,182.56 494.26,182.66 494.37,182.59 494.49,182.51 494.61,182.42 494.72,182.39 494.84,182.53 494.95,182.60 495.07,182.60 495.19,182.56 495.30,182.42 495.42,182.40 495.54,182.32 495.65,182.33 495.77,182.25 495.88,182.16 496.00,182.07 496.12,181.99 496.23,181.81 496.35,181.52 496.47,181.15 496.58,180.75 496.70,180.00 496.81,178.78 496.93,177.20 497.05,175.24 497.16,173.10 497.28,170.74 497.39,168.87 497.51,168.07 497.63,168.86 497.74,170.81 497.86,173.07 497.98,175.33 498.09,177.28 498.21,178.96 498.32,180.09 498.44,180.81 498.56,181.34 498.67,181.77 498.79,182.07 498.91,182.35 499.02,182.54 499.14,182.62 499.25,182.63 499.37,182.67 499.49,182.84 499.60,182.97 499.72,183.01 499.84,183.02 499.95,182.92 500.07,183.01 500.18,183.05 500.30,183.19 500.42,183.22 500.53,183.16 500.65,183.09 500.76,183.06 500.88,183.25 501.00,183.33 501.11,183.33 501.23,183.31 501.35,183.43 501.46,183.38 501.58,183.44 501.69,183.31 501.81,183.46 501.93,183.42 502.04,183.44 502.16,183.48 502.28,183.49 502.39,183.56 502.51,183.45 502.62,183.39 502.74,183.39 502.86,183.53 502.97,183.53 503.09,183.57 503.20,183.50 503.32,183.67 503.44,183.67 503.55,183.67 503.67,183.60 503.79,183.57 503.90,183.54 504.02,183.45 504.13,183.52 504.25,183.67 504.37,183.89 504.48,183.89 504.60,183.90 504.72,183.76 504.83,183.86 504.95,183.72 505.06,183.75 505.18,183.73 505.30,183.78 505.41,183.76 505.53,183.65 505.65,183.68 505.76,183.68 505.88,183.69 505.99,183.71 506.11,183.74 506.23,183.84 506.34,183.79 506.46,183.86 506.57,183.81 506.69,183.91 506.81,183.80 506.92,183.78 507.04,183.78 507.16,183.82 507.27,183.84 507.39,183.75 507.50,183.76 507.62,183.75 507.74,183.80 507.85,183.89 507.97,183.86 508.09,183.80 508.20,183.76 508.32,183.76 508.43,183.73 508.55,183.63 508.67,183.58 508.78,183.59 508.90,183.65 509.01,183.59 509.13,183.62 509.25,183.62 509.36,183.65 509.48,183.68 509.60,183.59 509.71,183.69 509.83,183.58 509.94,183.54 510.06,183.51 510.18,183.52 510.29,183.53 510.41,183.49 510.53,183.47 510.64,183.49 510.76,183.49 510.87,183.54 510.99,183.48 511.11,183.38 511.22,183.25 511.34,183.19 511.46,183.13 511.57,183.14 511.69,183.01 511.80,183.01 511.92,182.87 512.04,182.88 512.15,182.74 512.27,182.55 512.38,182.37 512.50,182.24 512.62,182.11 512.73,181.90 512.85,181.41 512.97,181.00 513.08,180.30 513.20,179.43 513.31,177.91 513.43,175.67 513.55,172.53 513.66,168.49 513.78,163.95 513.90,159.55 514.01,156.58 514.13,156.49 514.24,159.15 514.36,163.51 514.48,167.82 514.59,171.66 514.71,174.43 514.82,176.45 514.94,177.63 515.06,178.18 515.17,178.38 515.29,178.33 515.41,178.14 515.52,177.61 515.64,176.72 515.75,175.31 515.87,173.33 515.99,170.52 516.10,166.70 516.22,161.54 516.34,155.18 516.45,147.73 516.57,140.08 516.68,133.45 516.80,129.81 516.92,130.46 517.03,134.95 517.15,141.54 517.27,148.23 517.38,153.88 517.50,158.08 517.61,160.58 517.73,161.25 517.85,159.66 517.96,155.76 518.08,148.94 518.19,139.36 518.31,126.82 518.43,112.35 518.54,98.31 518.66,89.21 518.78,89.55 518.89,99.14 519.01,113.66 519.12,128.82 519.24,141.92 519.36,152.49 519.47,160.25 519.59,166.01 519.71,170.10 519.82,172.99 519.94,174.89 520.05,176.26 520.17,177.26 520.29,178.17 520.40,178.76 520.52,179.27 520.63,179.73 520.75,180.18 520.87,180.51 520.98,180.85 521.10,181.10 521.22,181.38 521.33,181.49 521.45,181.60 521.56,181.51 521.68,181.43 521.80,181.11 521.91,180.89 522.03,180.36 522.15,179.69 522.26,178.44 522.38,176.77 522.49,174.63 522.61,172.16 522.73,169.76 522.84,167.96 522.96,167.66 523.08,168.85 523.19,171.23 523.31,173.89 523.42,176.34 523.54,178.32 523.66,179.87 523.77,181.09 523.89,181.89 524.00,182.41 524.12,182.72 524.24,183.01 524.35,183.21 524.47,183.32 524.59,183.30 524.70,183.28 524.82,183.43 524.93,183.57 525.05,183.72 525.17,183.66 525.28,183.73 525.40,183.74 525.52,183.78 525.63,183.77 525.75,183.82 525.86,184.01 525.98,184.12 526.10,184.23 526.21,184.12 526.33,184.13 526.44,184.04 526.56,184.14 526.68,184.19 526.79,184.23 526.91,184.24 527.03,184.22 527.14,184.25 527.26,184.27 527.37,184.33 527.49,184.35 527.61,184.40 527.72,184.40 527.84,184.40 527.96,184.50 528.07,184.54 528.19,184.57 528.30,184.39 528.42,184.29 528.54,184.33 528.65,184.34 528.77,184.37 528.89,184.38 529.00,184.47 529.12,184.40 529.23,184.33 529.35,184.37 529.47,184.51 529.58,184.52 529.70,184.55 529.81,184.53 529.93,184.53 530.05,184.52 530.16,184.55 530.28,184.57 530.40,184.54 530.51,184.43 530.63,184.45 530.74,184.40 530.86,184.44 530.98,184.47 531.09,184.46 531.21,184.43 531.33,184.41 531.44,184.49 531.56,184.57 531.67,184.49 531.79,184.47 531.91,184.48 532.02,184.62 532.14,184.62 532.25,184.66 532.37,184.55 532.49,184.59 532.60,184.59 532.72,184.59 532.84,184.53 532.95,184.44 533.07,184.54 533.18,184.51 533.30,184.52 533.42,184.46 533.53,184.46 533.65,184.42 533.77,184.43 533.88,184.39 534.00,184.41 534.11,184.41 534.23,184.46 534.35,184.47 534.46,184.38 534.58,184.40 534.70,184.42 534.81,184.49 534.93,184.46 535.04,184.53 535.16,184.59 535.28,184.64 535.39,184.53 535.51,184.42 535.62,184.42 535.74,184.52 535.86,184.65 535.97,184.64 536.09,184.57 536.21,184.43 536.32,184.36 536.44,184.37 536.55,184.30 536.67,184.36 536.79,184.30 536.90,184.35 537.02,184.40 537.14,184.25 537.25,184.24 537.37,184.06 537.48,184.18 537.60,184.21 537.72,184.28 537.83,184.25 537.95,184.21 538.06,184.22 538.18,184.05 538.30,183.90 538.41,183.65 538.53,183.49 538.65,183.32 538.76,183.12 538.88,182.85 538.99,182.42 539.11,181.85 539.23,181.12 539.34,180.00 539.46,178.30 539.58,176.03 539.69,173.16 539.81,170.01 539.92,166.88 540.04,164.65 540.16,164.14 540.27,165.52 540.39,168.40 540.51,171.59 540.62,174.58 540.74,176.83 540.85,178.75 540.97,180.14 541.09,181.11 541.20,181.53 541.32,181.87 541.43,182.17 541.55,182.26 541.67,182.12 541.78,181.75 541.90,181.32 542.02,180.64 542.13,179.68 542.25,178.26 542.36,176.42 542.48,174.24 542.60,172.09 542.71,170.38 542.83,169.61 542.95,170.25 543.06,171.85 543.18,173.98 543.29,175.95 543.41,177.59 543.53,178.73 543.64,179.23 543.76,179.35 543.87,179.13 543.99,178.67 544.11,178.01 544.22,176.95 544.34,175.96 544.46,175.14 544.57,175.04 544.69,175.36 544.80,176.18 544.92,177.27 545.04,178.59 545.15,179.81 545.27,180.73 545.39,181.49 545.50,182.11 545.62,182.66 545.73,183.11 545.85,183.40 545.97,183.68 546.08,183.70 546.20,183.78 546.32,183.77 546.43,183.91 546.55,184.01 546.66,184.16 546.78,184.21 546.90,184.21 547.01,184.14 547.13,184.05 547.24,183.97 547.36,183.99 547.48,184.05 547.59,184.00 547.71,183.99 547.83,183.84 547.94,183.66 548.06,183.24 548.17,182.80 548.29,182.18 548.41,181.39 548.52,180.42 548.64,179.35 548.76,178.34 548.87,177.65 548.99,177.59 549.10,178.12 549.22,179.24 549.34,180.35 549.45,181.36 549.57,181.98 549.68,182.59 549.80,183.01 549.92,183.21 550.03,183.24 550.15,183.14 550.27,182.78 550.38,182.18 550.50,181.46 550.61,180.62 550.73,179.87 550.85,179.14 550.96,179.02 551.08,179.26 551.20,180.02 551.31,180.86 551.43,181.72 551.54,182.41 551.66,183.04 551.78,183.42 551.89,183.81 552.01,184.06 552.13,184.29 552.24,184.25 552.36,184.26 552.47,184.36 552.59,184.54 552.71,184.52 552.82,184.45 552.94,184.42 553.05,184.40 553.17,184.34 553.29,184.37 553.40,184.41 553.52,184.53 553.64,184.52 553.75,184.49 553.87,184.48 553.98,184.56 554.10,184.59 554.22,184.53 554.33,184.47 554.45,184.43 554.57,184.46 554.68,184.55 554.80,184.68 554.91,184.80 555.03,184.75 555.15,184.78 555.26,184.71 555.38,184.66 555.49,184.72 555.61,184.69 555.73,184.74 555.84,184.58 555.96,184.64 556.08,184.76 556.19,184.82 556.31,184.79 556.42,184.65 556.54,184.65 556.66,184.73 556.77,184.80 556.89,184.84 557.01,184.84 557.12,184.80 557.24,184.74 557.35,184.64 557.47,184.63 557.59,184.66 557.70,184.67 557.82,184.69 557.94,184.74 558.05,184.73 558.17,184.73 558.28,184.69 558.40,184.67 558.52,184.65 558.63,184.61 558.75,184.57 558.86,184.54 558.98,184.53 559.10,184.63 559.21,184.80 559.33,184.98 559.45,185.04 559.56,184.82 559.68,184.70 559.79,184.68 559.91,184.78 560.03,184.71 560.14,184.67 560.26,184.67 560.38,184.72 560.49,184.76 560.61,184.82 560.72,184.96 560.84,184.95 560.96,184.93 561.07,184.80 561.19,184.75 561.30,184.82 561.42,184.90 561.54,184.92 561.65,184.94 561.77,184.87 561.89,184.91 562.00,184.81 562.12,184.86 562.23,184.84 562.35,184.93 562.47,184.85 562.58,184.89 562.70,184.85 562.82,184.89 562.93,184.82 563.05,184.86 563.16,184.88 563.28,185.02 563.40,184.92 563.51,184.88 563.63,184.86 563.75,184.93 563.86,185.03 563.98,184.98 564.09,184.92 564.21,184.90 564.33,184.90 564.44,185.05 564.56,184.93 564.67,185.00 564.79,184.91 564.91,185.02 565.02,184.91 565.14,184.93 565.26,184.93 565.37,185.06 565.49,184.99 565.60,185.06 565.72,184.92 565.84,184.92 565.95,184.73 566.07,184.86 566.19,184.97 566.30,185.06 566.42,184.96 566.53,184.97 566.65,184.98" fill="none" stroke="#0a0a0a" stroke-width="1.75" stroke-linejoin="round"/>
<text class="tag" x="381.6" y="23.8" text-anchor="middle">(b)</text>
<text class="lb b" x="413.0" y="94.2" text-anchor="middle">(100)</text>
<text class="lb b" x="439.5" y="46.7" text-anchor="middle">(110)</text>
<text class="lb b" x="454.5" y="19.2" text-anchor="middle">(101)</text>
<text class="lb b" x="489.5" y="56.7" text-anchor="middle">(021)</text>
<text class="lb b" x="518.5" y="83.2" text-anchor="middle">(12<tspan class="ov">1</tspan>)</text>
<text class="lb b" x="511.0" y="124.5" text-anchor="middle">(300)</text>
<text class="lb b" x="478.7" y="154.4" text-anchor="middle">(111)</text>
<text class="lb b" x="505.8" y="157.2" text-anchor="middle">(002)</text>
<text class="lb b" x="538.9" y="157.8" text-anchor="middle">(112)</text>
<text class="lb b" x="465.0" y="166.4" text-anchor="middle">(200)</text>
<text class="lb b" x="501.9" y="166.9" text-anchor="middle">(120)</text>
<text class="lb b" x="530.2" y="166.6" text-anchor="middle">(012)</text>
<text class="lb b" x="552.8" y="166.3" text-anchor="middle">(220)</text>
<text class="lb r" x="475.0" y="176.4" text-anchor="middle">(111)</text>
<text class="lb b" x="555.6" y="175.6" text-anchor="middle">(202)</text>
<text class="lb b" x="565.3" y="183.0" text-anchor="middle">(130)</text>
<g fill="none" stroke-width="1.2">
<path d="M58.20 240.67H291.90" stroke="#5a5a5a" stroke-width="1.35"/>
<path d="M58.20 426.30H291.90" stroke="#262626" stroke-width="1.35"/>
<path d="M58.80 240.67V430.30" stroke="#555"/>
<path d="M291.30 240.67V430.30" stroke="#383838"/>
<path d="M73.33 426.30v2.5M87.86 426.30v4.0M102.39 426.30v2.5M116.92 426.30v4.0M131.46 426.30v2.5M145.99 426.30v4.0M160.52 426.30v2.5M175.05 426.30v4.0M189.58 426.30v2.5M204.11 426.30v4.0M218.64 426.30v2.5M233.18 426.30v4.0M247.71 426.30v2.5M262.24 426.30v4.0M276.77 426.30v2.5" stroke="#262626"/>
<path d="M58.80 426.30h-4.5M58.80 413.93h-2.5M58.80 401.55h-4.5M58.80 389.18h-2.5M58.80 376.80h-4.5M58.80 364.43h-2.5M58.80 352.05h-4.5M58.80 339.68h-2.5M58.80 327.30h-4.5M58.80 314.93h-2.5M58.80 302.55h-4.5M58.80 290.18h-2.5M58.80 277.80h-4.5M58.80 265.43h-2.5M58.80 253.05h-4.5M58.80 240.68h-2.5" stroke="#555"/>
</g>
<g class="tk">
<text transform="translate(58.20 443.60) scale(1 1.050)" text-anchor="middle">0</text>
<text transform="translate(87.26 443.60) scale(1 1.050)" text-anchor="middle">10</text>
<text transform="translate(116.33 443.60) scale(1 1.050)" text-anchor="middle">20</text>
<text transform="translate(145.39 443.60) scale(1 1.050)" text-anchor="middle">30</text>
<text transform="translate(174.45 443.60) scale(1 1.050)" text-anchor="middle">40</text>
<text transform="translate(203.51 443.60) scale(1 1.050)" text-anchor="middle">50</text>
<text transform="translate(232.58 443.60) scale(1 1.050)" text-anchor="middle">60</text>
<text transform="translate(261.64 443.60) scale(1 1.050)" text-anchor="middle">70</text>
<text transform="translate(290.70 443.60) scale(1 1.050)" text-anchor="middle">80</text>
<text transform="translate(52.40 431.40) scale(1 1.050)" text-anchor="end">0</text>
<text transform="translate(52.40 406.65) scale(1 1.050)" text-anchor="end">1000</text>
<text transform="translate(52.40 381.90) scale(1 1.050)" text-anchor="end">2000</text>
<text transform="translate(52.40 357.15) scale(1 1.050)" text-anchor="end">3000</text>
<text transform="translate(52.40 332.40) scale(1 1.050)" text-anchor="end">4000</text>
<text transform="translate(52.40 307.65) scale(1 1.050)" text-anchor="end">5000</text>
<text transform="translate(52.40 282.90) scale(1 1.050)" text-anchor="end">6000</text>
<text transform="translate(52.40 258.15) scale(1 1.050)" text-anchor="end">7000</text>
</g>
<text class="ax" transform="translate(171.3 459.0) scale(1 1.050)" text-anchor="middle">2<tspan font-style="italic">θ</tspan>/degree</text>
<text class="ax" transform="translate(17.4 333.5) rotate(-90) scale(1 1.050)" text-anchor="middle">Intensity/a.u.</text>
<polyline points="73.33,423.59 73.45,425.47 73.56,423.99 73.68,424.51 73.80,424.38 73.91,424.59 74.03,423.99 74.14,425.93 74.26,423.72 74.38,424.99 74.49,424.71 74.61,425.17 74.73,424.01 74.84,424.21 74.96,424.83 75.08,425.27 75.19,423.06 75.31,424.71 75.42,424.07 75.54,424.76 75.66,423.66 75.77,423.42 75.89,423.66 76.00,423.19 76.12,423.14 76.24,426.10 76.35,425.00 76.47,425.45 76.59,423.95 76.70,424.24 76.82,425.42 76.94,423.18 77.05,424.33 77.17,423.16 77.28,424.95 77.40,423.77 77.52,423.44 77.63,424.73 77.75,424.17 77.87,424.45 77.98,424.75 78.10,424.18 78.21,425.99 78.33,423.88 78.45,424.36 78.56,425.44 78.68,423.89 78.80,426.02 78.91,425.37 79.03,423.51 79.14,424.02 79.26,424.98 79.38,423.31 79.49,424.71 79.61,424.60 79.72,424.42 79.84,423.92 79.96,424.04 80.07,425.21 80.19,424.78 80.31,423.98 80.42,423.55 80.54,424.23 80.66,423.73 80.77,423.76 80.89,425.25 81.00,424.60 81.12,422.74 81.24,424.64 81.35,423.84 81.47,425.47 81.59,422.00 81.70,425.03 81.82,423.89 81.93,424.02 82.05,425.66 82.17,424.58 82.28,423.54 82.40,424.94 82.52,423.67 82.63,424.67 82.75,423.44 82.86,422.62 82.98,425.27 83.10,424.16 83.21,424.98 83.33,425.19 83.45,424.41 83.56,424.26 83.68,424.07 83.79,424.09 83.91,426.10 84.03,424.83 84.14,426.10 84.26,424.19 84.38,423.77 84.49,424.21 84.61,424.85 84.72,424.14 84.84,423.80 84.96,424.00 85.07,424.88 85.19,424.73 85.31,423.43 85.42,424.45 85.54,424.30 85.65,424.40 85.77,423.96 85.89,424.00 86.00,424.68 86.12,424.71 86.24,424.67 86.35,424.32 86.47,423.98 86.58,425.56 86.70,423.22 86.82,425.28 86.93,424.36 87.05,425.31 87.17,424.85 87.28,424.51 87.40,424.02 87.51,424.25 87.63,423.78 87.75,424.69 87.86,423.18 87.98,425.71 88.10,424.25 88.21,424.19 88.33,424.80 88.44,424.47 88.56,425.12 88.68,424.13 88.79,424.76 88.91,423.84 89.03,424.14 89.14,424.11 89.26,424.34 89.37,425.11 89.49,423.87 89.61,423.77 89.72,424.69 89.84,425.28 89.96,424.94 90.07,423.58 90.19,425.72 90.30,424.14 90.42,424.69 90.54,423.82 90.65,425.57 90.77,424.05 90.89,425.23 91.00,423.99 91.12,423.07 91.23,424.58 91.35,422.91 91.47,424.36 91.58,423.83 91.70,422.57 91.82,423.60 91.93,423.99 92.05,426.10 92.16,425.03 92.28,424.08 92.40,424.99 92.51,425.16 92.63,424.00 92.75,425.51 92.86,425.29 92.98,423.84 93.09,422.79 93.21,424.98 93.33,424.30 93.44,423.95 93.56,424.90 93.68,425.06 93.79,424.06 93.91,425.24 94.02,424.98 94.14,422.90 94.26,425.89 94.37,422.83 94.49,423.24 94.61,424.84 94.72,423.44 94.84,424.19 94.95,425.10 95.07,424.80 95.19,424.93 95.30,423.11 95.42,425.30 95.54,425.37 95.65,424.67 95.77,424.88 95.88,422.64 96.00,424.75 96.12,424.93 96.23,424.97 96.35,424.99 96.47,425.97 96.58,424.32 96.70,424.95 96.81,424.61 96.93,423.40 97.05,423.54 97.16,423.72 97.28,425.10 97.40,424.43 97.51,424.76 97.63,424.60 97.74,424.46 97.86,424.78 97.98,423.50 98.09,424.91 98.21,423.22 98.33,423.97 98.44,424.40 98.56,423.92 98.67,424.56 98.79,424.54 98.91,423.46 99.02,424.48 99.14,420.85 99.26,425.20 99.37,425.31 99.49,423.20 99.60,424.62 99.72,424.73 99.84,425.06 99.95,424.40 100.07,424.83 100.19,423.61 100.30,424.71 100.42,424.20 100.53,423.67 100.65,423.99 100.77,424.56 100.88,424.98 101.00,425.33 101.12,425.37 101.23,423.53 101.35,424.56 101.46,424.43 101.58,423.92 101.70,423.78 101.81,423.20 101.93,423.64 102.05,424.18 102.16,424.90 102.28,423.58 102.39,423.99 102.51,423.91 102.63,424.54 102.74,423.58 102.86,423.11 102.98,423.87 103.09,423.16 103.21,423.62 103.32,423.87 103.44,422.59 103.56,423.73 103.67,423.24 103.79,424.61 103.91,422.65 104.02,423.60 104.14,423.30 104.25,423.44 104.37,422.81 104.49,423.43 104.60,423.70 104.72,422.62 104.84,422.40 104.95,422.86 105.07,421.74 105.18,421.22 105.30,422.42 105.42,421.17 105.53,420.78 105.65,421.90 105.77,421.06 105.88,421.09 106.00,417.24 106.11,417.51 106.23,415.97 106.35,413.33 106.46,410.35 106.58,408.62 106.70,404.61 106.81,401.31 106.93,395.31 107.04,394.61 107.16,389.37 107.28,384.49 107.39,378.07 107.51,373.94 107.63,367.51 107.74,364.95 107.86,358.56 107.97,355.82 108.09,353.03 108.21,353.02 108.32,354.12 108.44,355.94 108.56,361.00 108.67,363.64 108.79,368.03 108.90,371.84 109.02,378.51 109.14,385.18 109.25,387.25 109.37,394.66 109.49,398.30 109.60,403.18 109.72,408.77 109.83,408.36 109.95,412.04 110.07,413.22 110.18,416.18 110.30,416.65 110.42,417.05 110.53,418.79 110.65,420.17 110.76,421.08 110.88,421.14 111.00,422.60 111.11,421.74 111.23,421.54 111.35,423.48 111.46,423.47 111.58,421.11 111.69,422.73 111.81,421.35 111.93,422.47 112.04,422.44 112.16,422.95 112.28,421.79 112.39,422.14 112.51,423.35 112.62,424.91 112.74,424.45 112.86,423.56 112.97,424.33 113.09,423.09 113.21,423.26 113.32,423.25 113.44,423.21 113.55,423.57 113.67,423.42 113.79,423.62 113.90,424.69 114.02,423.86 114.14,423.88 114.25,423.14 114.37,424.24 114.48,424.66 114.60,422.41 114.72,423.33 114.83,423.08 114.95,422.67 115.07,424.25 115.18,423.16 115.30,423.87 115.41,424.97 115.53,423.86 115.65,423.90 115.76,423.64 115.88,424.32 116.00,424.32 116.11,425.03 116.23,423.47 116.34,425.77 116.46,424.15 116.58,424.58 116.69,424.56 116.81,423.99 116.93,424.50 117.04,425.64 117.16,425.90 117.27,425.74 117.39,424.90 117.51,424.52 117.62,424.54 117.74,424.24 117.86,424.10 117.97,424.62 118.09,425.43 118.20,424.65 118.32,424.80 118.44,422.90 118.55,423.48 118.67,424.98 118.79,424.38 118.90,423.24 119.02,424.11 119.13,423.42 119.25,424.07 119.37,424.05 119.48,423.75 119.60,424.76 119.72,424.85 119.83,424.55 119.95,423.39 120.06,424.01 120.18,425.30 120.30,423.43 120.41,423.87 120.53,423.51 120.65,424.04 120.76,424.24 120.88,425.89 120.99,424.06 121.11,425.75 121.23,424.47 121.34,422.83 121.46,424.13 121.58,424.01 121.69,424.73 121.81,424.07 121.92,425.36 122.04,424.51 122.16,424.09 122.27,424.52 122.39,425.23 122.51,426.10 122.62,424.82 122.74,425.00 122.85,424.81 122.97,423.94 123.09,425.80 123.20,423.72 123.32,425.48 123.44,422.33 123.55,423.31 123.67,423.83 123.78,425.03 123.90,424.20 124.02,424.20 124.13,424.84 124.25,424.78 124.37,423.45 124.48,424.21 124.60,422.77 124.71,423.34 124.83,424.36 124.95,423.81 125.06,424.18 125.18,425.31 125.30,423.86 125.41,424.97 125.53,423.16 125.64,423.46 125.76,426.10 125.88,424.21 125.99,425.16 126.11,422.95 126.23,424.39 126.34,424.05 126.46,423.80 126.57,425.09 126.69,424.17 126.81,423.23 126.92,424.78 127.04,423.81 127.16,424.47 127.27,422.46 127.39,422.66 127.50,424.28 127.62,424.44 127.74,423.85 127.85,424.35 127.97,424.38 128.09,424.73 128.20,422.86 128.32,422.43 128.43,423.82 128.55,425.57 128.67,425.39 128.78,423.83 128.90,425.03 129.02,424.71 129.13,424.16 129.25,424.61 129.36,423.25 129.48,425.33 129.60,424.15 129.71,425.20 129.83,424.10 129.95,425.75 130.06,424.64 130.18,423.34 130.29,424.82 130.41,424.01 130.53,424.66 130.64,424.09 130.76,424.50 130.88,423.77 130.99,425.09 131.11,424.37 131.22,423.60 131.34,424.78 131.46,423.57 131.57,423.45 131.69,423.97 131.81,425.84 131.92,422.75 132.04,425.15 132.15,424.13 132.27,423.77 132.39,422.77 132.50,424.05 132.62,424.82 132.74,423.56 132.85,422.75 132.97,424.87 133.08,423.56 133.20,424.07 133.32,423.90 133.43,424.25 133.55,423.73 133.67,423.53 133.78,422.02 133.90,425.53 134.01,422.62 134.13,423.88 134.25,424.79 134.36,425.16 134.48,422.81 134.60,425.30 134.71,422.38 134.83,425.05 134.94,423.56 135.06,424.66 135.18,425.01 135.29,424.36 135.41,422.23 135.53,423.66 135.64,423.56 135.76,422.97 135.87,422.76 135.99,424.48 136.11,423.32 136.22,423.61 136.34,423.96 136.46,425.39 136.57,422.80 136.69,422.93 136.80,423.96 136.92,420.52 137.04,424.49 137.15,423.66 137.27,423.20 137.39,424.03 137.50,423.39 137.62,422.07 137.73,424.16 137.85,424.92 137.97,423.73 138.08,423.97 138.20,423.56 138.32,423.69 138.43,423.11 138.55,421.11 138.66,422.94 138.78,421.15 138.90,422.95 139.01,423.28 139.13,424.41 139.25,422.53 139.36,422.20 139.48,420.37 139.59,423.93 139.71,422.99 139.83,422.63 139.94,422.42 140.06,422.20 140.18,422.73 140.29,422.01 140.41,422.63 140.52,422.52 140.64,421.35 140.76,420.41 140.87,421.80 140.99,422.60 141.11,421.33 141.22,420.69 141.34,420.53 141.45,419.23 141.57,420.84 141.69,419.92 141.80,419.91 141.92,417.61 142.04,418.34 142.15,418.39 142.27,418.30 142.38,416.24 142.50,417.30 142.62,414.23 142.73,413.03 142.85,411.71 142.97,409.89 143.08,407.14 143.20,402.78 143.31,398.88 143.43,391.93 143.55,386.62 143.66,375.56 143.78,366.58 143.90,354.01 144.01,342.21 144.13,329.85 144.24,316.40 144.36,304.45 144.48,292.46 144.59,285.91 144.71,280.44 144.83,275.84 144.94,275.90 145.06,277.84 145.17,277.56 145.29,279.46 145.41,277.49 145.52,276.51 145.64,271.59 145.76,268.61 145.87,265.31 145.99,265.97 146.10,266.74 146.22,272.15 146.34,279.90 146.45,291.04 146.57,305.90 146.69,319.32 146.80,333.50 146.92,346.91 147.03,360.10 147.15,371.12 147.27,380.01 147.38,390.49 147.50,394.83 147.62,402.16 147.73,405.17 147.85,408.90 147.96,410.45 148.08,412.65 148.20,412.86 148.31,416.14 148.43,414.92 148.55,416.00 148.66,416.00 148.78,417.85 148.89,416.70 149.01,417.94 149.13,417.93 149.24,418.65 149.36,418.49 149.48,418.16 149.59,419.60 149.71,421.02 149.82,419.68 149.94,419.42 150.06,420.60 150.17,420.55 150.29,421.48 150.41,420.14 150.52,421.34 150.64,420.04 150.75,420.01 150.87,419.52 150.99,420.06 151.10,420.23 151.22,421.02 151.34,419.78 151.45,422.55 151.57,422.05 151.68,420.15 151.80,421.85 151.92,422.16 152.03,421.92 152.15,420.98 152.27,420.86 152.38,421.16 152.50,421.94 152.61,421.80 152.73,421.32 152.85,421.91 152.96,421.41 153.08,422.58 153.20,421.13 153.31,421.75 153.43,421.89 153.54,422.20 153.66,423.23 153.78,421.17 153.89,422.26 154.01,421.97 154.13,422.01 154.24,421.47 154.36,422.09 154.47,420.97 154.59,421.64 154.71,422.26 154.82,422.33 154.94,420.67 155.06,422.53 155.17,422.31 155.29,422.64 155.40,421.95 155.52,422.10 155.64,421.38 155.75,422.52 155.87,422.72 155.99,421.06 156.10,423.29 156.22,421.86 156.33,422.67 156.45,421.37 156.57,421.91 156.68,420.96 156.80,421.27 156.92,420.60 157.03,420.95 157.15,419.88 157.26,419.16 157.38,418.51 157.50,417.31 157.61,416.51 157.73,414.67 157.85,415.66 157.96,413.75 158.08,412.92 158.19,411.61 158.31,410.26 158.43,409.14 158.54,408.76 158.66,409.60 158.78,409.45 158.89,409.66 159.01,409.59 159.12,410.96 159.24,411.13 159.36,412.77 159.47,413.15 159.59,414.10 159.71,414.55 159.82,416.20 159.94,417.28 160.05,417.70 160.17,419.21 160.29,418.86 160.40,420.09 160.52,420.32 160.64,421.12 160.75,421.30 160.87,421.77 160.98,422.11 161.10,421.94 161.22,421.72 161.33,422.91 161.45,422.27 161.57,421.83 161.68,422.55 161.80,421.88 161.91,422.10 162.03,423.02 162.15,422.82 162.26,421.87 162.38,421.99 162.50,422.35 162.61,422.52 162.73,423.75 162.84,422.64 162.96,423.47 163.08,422.71 163.19,422.67 163.31,422.71 163.43,422.40 163.54,422.60 163.66,423.25 163.77,422.88 163.89,422.20 164.01,421.65 164.12,423.20 164.24,422.43 164.36,422.10 164.47,422.40 164.59,422.73 164.70,422.04 164.82,421.74 164.94,422.54 165.05,423.04 165.17,423.31 165.29,422.25 165.40,421.95 165.52,422.71 165.63,422.57 165.75,422.69 165.87,421.55 165.98,423.02 166.10,422.17 166.22,422.83 166.33,422.16 166.45,422.25 166.56,421.88 166.68,422.54 166.80,422.77 166.91,422.66 167.03,422.85 167.15,421.85 167.26,422.28 167.38,423.01 167.49,421.97 167.61,422.22 167.73,422.69 167.84,421.82 167.96,421.48 168.08,421.51 168.19,421.18 168.31,421.16 168.42,420.82 168.54,418.91 168.66,420.11 168.77,418.81 168.89,418.52 169.01,418.46 169.12,419.27 169.24,417.62 169.35,418.50 169.47,417.16 169.59,418.57 169.70,419.09 169.82,418.15 169.94,419.06 170.05,418.83 170.17,418.43 170.28,419.07 170.40,418.67 170.52,417.05 170.63,415.05 170.75,413.48 170.87,410.76 170.98,406.35 171.10,402.33 171.21,398.20 171.33,392.40 171.45,389.17 171.56,385.17 171.68,383.47 171.80,382.27 171.91,383.44 172.03,387.06 172.14,391.83 172.26,395.69 172.38,400.69 172.49,404.91 172.61,409.65 172.73,412.18 172.84,415.28 172.96,416.47 173.07,418.27 173.19,419.40 173.31,419.91 173.42,420.11 173.54,419.95 173.66,421.02 173.77,420.97 173.89,421.53 174.00,421.23 174.12,421.98 174.24,421.49 174.35,420.66 174.47,421.40 174.59,421.61 174.70,421.67 174.82,421.90 174.93,421.15 175.05,421.68 175.17,421.83 175.28,420.63 175.40,420.96 175.52,421.33 175.63,421.77 175.75,420.78 175.86,420.48 175.98,421.40 176.10,421.19 176.21,421.08 176.33,420.61 176.45,421.00 176.56,421.09 176.68,421.35 176.79,421.45 176.91,420.97 177.03,420.99 177.14,421.19 177.26,421.48 177.38,421.03 177.49,421.13 177.61,420.77 177.72,420.28 177.84,420.29 177.96,419.97 178.07,421.44 178.19,419.79 178.31,420.98 178.42,420.08 178.54,420.22 178.65,419.77 178.77,420.39 178.89,419.48 179.00,420.46 179.12,418.85 179.24,419.72 179.35,417.88 179.47,418.91 179.58,418.37 179.70,417.96 179.82,417.08 179.93,416.76 180.05,416.03 180.17,415.22 180.28,413.81 180.40,411.82 180.51,410.90 180.63,408.55 180.75,406.44 180.86,403.54 180.98,399.97 181.10,396.27 181.21,392.75 181.33,387.28 181.44,382.35 181.56,376.59 181.68,369.61 181.79,364.42 181.91,358.78 182.03,350.88 182.14,345.53 182.26,339.32 182.37,333.71 182.49,328.28 182.61,325.50 182.72,322.29 182.84,321.02 182.96,320.30 183.07,321.90 183.19,324.78 183.30,328.66 183.42,333.93 183.54,339.63 183.65,344.74 183.77,351.83 183.89,358.08 184.00,364.83 184.12,371.45 184.23,377.45 184.35,382.23 184.47,386.65 184.58,392.35 184.70,395.80 184.82,400.36 184.93,403.58 185.05,406.12 185.16,409.26 185.28,410.83 185.40,412.73 185.51,413.70 185.63,416.10 185.75,415.57 185.86,416.41 185.98,417.38 186.09,417.90 186.21,418.58 186.33,418.99 186.44,419.04 186.56,420.07 186.68,420.06 186.79,420.09 186.91,418.98 187.02,420.35 187.14,419.37 187.26,420.75 187.37,422.14 187.49,420.72 187.61,420.69 187.72,419.93 187.84,421.30 187.95,420.76 188.07,421.45 188.19,420.93 188.30,420.89 188.42,421.65 188.54,420.81 188.65,421.07 188.77,421.74 188.88,420.90 189.00,421.75 189.12,421.17 189.23,421.69 189.35,421.86 189.47,420.91 189.58,420.63 189.70,421.03 189.81,421.18 189.93,421.63 190.05,420.38 190.16,421.27 190.28,421.01 190.40,421.41 190.51,421.47 190.63,420.42 190.74,419.97 190.86,420.34 190.98,419.58 191.09,418.73 191.21,417.98 191.33,417.79 191.44,417.13 191.56,415.81 191.67,414.55 191.79,413.58 191.91,413.43 192.02,411.92 192.14,413.11 192.26,412.75 192.37,412.78 192.49,413.22 192.60,413.84 192.72,415.15 192.84,416.05 192.95,417.28 193.07,417.07 193.19,418.59 193.30,418.95 193.42,419.14 193.53,420.12 193.65,421.28 193.77,421.07 193.88,421.14 194.00,420.68 194.12,421.48 194.23,422.15 194.35,420.32 194.46,421.46 194.58,421.82 194.70,422.49 194.81,422.71 194.93,422.16 195.05,422.04 195.16,422.42 195.28,421.96 195.39,422.27 195.51,422.98 195.63,421.40 195.74,423.10 195.86,421.73 195.98,422.51 196.09,423.32 196.21,422.71 196.32,421.71 196.44,422.99 196.56,422.55 196.67,421.64 196.79,422.80 196.91,421.99 197.02,423.00 197.14,422.34 197.25,422.44 197.37,422.33 197.49,422.67 197.60,421.71 197.72,423.10 197.84,421.70 197.95,422.34 198.07,422.70 198.18,422.06 198.30,421.98 198.42,422.29 198.53,422.47 198.65,421.36 198.77,422.18 198.88,422.74 199.00,421.36 199.11,421.85 199.23,422.21 199.35,422.74 199.46,421.76 199.58,422.44 199.70,422.38 199.81,422.41 199.93,422.86 200.04,421.19 200.16,422.00 200.28,421.71 200.39,422.46 200.51,421.49 200.63,423.54 200.74,422.39 200.86,423.43 200.97,421.99 201.09,421.77 201.21,421.85 201.32,422.73 201.44,422.08 201.56,422.15 201.67,421.89 201.79,421.45 201.90,422.28 202.02,421.59 202.14,421.61 202.25,421.52 202.37,422.28 202.49,422.21 202.60,422.06 202.72,422.35 202.83,422.17 202.95,422.17 203.07,421.58 203.18,421.99 203.30,421.34 203.42,421.86 203.53,420.73 203.65,421.53 203.76,421.51 203.88,422.03 204.00,420.97 204.11,420.77 204.23,421.38 204.35,420.81 204.46,420.26 204.58,421.34 204.69,420.41 204.81,420.68 204.93,420.35 205.04,420.43 205.16,419.43 205.28,418.71 205.39,417.41 205.51,416.86 205.62,415.34 205.74,412.46 205.86,411.46 205.97,409.16 206.09,407.14 206.21,405.82 206.32,403.49 206.44,402.17 206.55,402.34 206.67,400.76 206.79,402.76 206.90,404.18 207.02,405.50 207.14,407.22 207.25,409.12 207.37,411.25 207.48,412.20 207.60,413.98 207.72,415.27 207.83,415.80 207.95,416.76 208.07,416.98 208.18,416.73 208.30,417.14 208.41,416.93 208.53,416.16 208.65,415.75 208.76,415.10 208.88,414.56 209.00,412.55 209.11,412.23 209.23,410.43 209.34,408.99 209.46,407.91 209.58,405.32 209.69,402.84 209.81,399.87 209.93,398.14 210.04,394.65 210.16,389.94 210.27,386.85 210.39,382.52 210.51,377.06 210.62,372.49 210.74,366.66 210.86,362.72 210.97,355.73 211.09,350.11 211.20,345.07 211.32,339.61 211.44,333.52 211.55,329.54 211.67,323.40 211.79,320.16 211.90,317.94 212.02,314.95 212.13,313.33 212.25,312.50 212.37,313.72 212.48,314.79 212.60,317.42 212.72,320.74 212.83,324.74 212.95,328.78 213.06,334.08 213.18,339.19 213.30,344.74 213.41,350.58 213.53,355.47 213.65,361.38 213.76,367.03 213.88,373.02 213.99,376.96 214.11,382.11 214.23,386.50 214.34,390.97 214.46,394.46 214.58,396.88 214.69,400.32 214.81,403.32 214.92,405.60 215.04,408.01 215.16,409.32 215.27,411.44 215.39,412.88 215.51,413.10 215.62,414.81 215.74,415.18 215.85,416.73 215.97,417.15 216.09,417.22 216.20,417.90 216.32,418.28 216.44,418.67 216.55,419.90 216.67,419.02 216.78,419.42 216.90,420.43 217.02,419.49 217.13,419.53 217.25,419.27 217.37,420.27 217.48,420.03 217.60,421.31 217.71,419.48 217.83,420.70 217.95,420.59 218.06,420.89 218.18,421.34 218.30,421.70 218.41,420.83 218.53,421.77 218.64,420.85 218.76,421.52 218.88,421.03 218.99,421.36 219.11,421.57 219.23,421.66 219.34,421.08 219.46,420.98 219.57,420.76 219.69,421.93 219.81,421.38 219.92,421.13 220.04,420.30 220.16,420.80 220.27,421.33 220.39,420.37 220.50,420.82 220.62,418.79 220.74,418.90 220.85,418.10 220.97,419.14 221.09,417.57 221.20,417.52 221.32,416.72 221.43,416.02 221.55,416.93 221.67,415.87 221.78,416.85 221.90,416.78 222.02,417.82 222.13,418.05 222.25,418.09 222.36,420.38 222.48,419.35 222.60,419.92 222.71,420.18 222.83,420.67 222.95,421.55 223.06,421.64 223.18,422.30 223.29,421.71 223.41,421.73 223.53,422.58 223.64,422.70 223.76,422.47 223.88,422.41 223.99,422.30 224.11,421.83 224.22,422.81 224.34,422.48 224.46,422.45 224.57,422.17 224.69,423.13 224.81,422.23 224.92,422.65 225.04,423.30 225.15,421.92 225.27,422.85 225.39,422.91 225.50,422.77 225.62,422.39 225.74,422.56 225.85,421.87 225.97,422.23 226.08,422.95 226.20,422.58 226.32,423.45 226.43,423.02 226.55,422.54 226.67,422.37 226.78,422.30 226.90,422.95 227.01,422.62 227.13,422.61 227.25,422.33 227.36,422.28 227.48,422.62 227.60,421.98 227.71,423.00 227.83,422.42 227.94,422.64 228.06,422.62 228.18,421.17 228.29,422.52 228.41,421.76 228.53,422.39 228.64,422.60 228.76,421.70 228.87,422.73 228.99,422.31 229.11,422.06 229.22,422.50 229.34,421.02 229.46,421.76 229.57,421.10 229.69,421.50 229.80,420.72 229.92,420.32 230.04,419.26 230.15,419.40 230.27,418.89 230.39,417.30 230.50,416.94 230.62,416.45 230.73,414.77 230.85,413.54 230.97,411.90 231.08,410.76 231.20,409.47 231.32,407.98 231.43,407.89 231.55,406.16 231.66,405.64 231.78,405.23 231.90,404.42 232.01,404.94 232.13,404.60 232.25,405.49 232.36,405.41 232.48,406.27 232.59,408.32 232.71,408.49 232.83,410.01 232.94,410.73 233.06,411.91 233.18,413.89 233.29,414.82 233.41,416.09 233.52,416.18 233.64,417.21 233.76,417.66 233.87,419.19 233.99,419.23 234.11,419.99 234.22,420.05 234.34,420.86 234.45,421.14 234.57,420.24 234.69,421.42 234.80,420.52 234.92,419.50 235.04,420.78 235.15,419.98 235.27,419.14 235.38,419.55 235.50,417.77 235.62,417.70 235.73,416.98 235.85,415.15 235.97,414.55 236.08,412.64 236.20,411.62 236.31,410.62 236.43,410.50 236.55,409.77 236.66,408.86 236.78,409.64 236.90,408.63 237.01,408.89 237.13,409.22 237.24,410.68 237.36,412.06 237.48,412.14 237.59,414.28 237.71,414.60 237.83,416.01 237.94,417.89 238.06,417.93 238.17,418.60 238.29,419.18 238.41,419.81 238.52,421.31 238.64,420.74 238.76,421.52 238.87,421.65 238.99,421.11 239.10,422.12 239.22,420.94 239.34,421.14 239.45,421.89 239.57,421.12 239.69,420.83 239.80,420.26 239.92,419.32 240.03,418.47 240.15,417.62 240.27,417.82 240.38,416.77 240.50,416.80 240.62,416.10 240.73,415.73 240.85,414.91 240.96,415.82 241.08,415.43 241.20,415.95 241.31,415.55 241.43,416.04 241.55,416.42 241.66,418.26 241.78,418.25 241.89,418.80 242.01,419.05 242.13,420.25 242.24,420.03 242.36,420.49 242.48,421.13 242.59,422.66 242.71,422.33 242.82,421.42 242.94,422.01 243.06,422.49 243.17,422.50 243.29,421.83 243.41,421.32 243.52,421.93 243.64,420.84 243.75,419.91 243.87,419.35 243.99,419.53 244.10,419.44 244.22,418.17 244.34,418.44 244.45,416.96 244.57,416.95 244.68,417.87 244.80,417.06 244.92,417.26 245.03,418.14 245.15,416.89 245.27,418.05 245.38,418.59 245.50,418.74 245.61,419.53 245.73,420.17 245.85,420.05 245.96,420.82 246.08,420.34 246.20,421.34 246.31,421.20 246.43,420.19 246.54,420.62 246.66,420.59 246.78,419.59 246.89,420.02 247.01,420.39 247.13,420.13 247.24,419.96 247.36,420.21 247.47,421.18 247.59,421.22 247.71,421.92 247.82,422.18 247.94,422.76 248.06,422.87 248.17,423.43 248.29,423.34 248.40,423.95 248.52,423.82 248.64,424.42 248.75,424.57 248.87,424.21 248.99,424.54 249.10,424.46 249.22,424.59 249.33,424.19 249.45,424.42 249.57,424.39 249.68,424.70 249.80,424.56 249.92,424.64 250.03,424.57 250.15,424.47 250.26,424.59 250.38,424.72 250.50,424.28 250.61,424.43 250.73,424.76 250.85,424.75 250.96,424.57 251.08,424.66 251.19,424.59 251.31,424.69 251.43,424.83 251.54,424.74 251.66,424.74 251.78,424.69 251.89,424.75 252.01,425.09 252.12,424.80 252.24,424.49 252.36,424.80 252.47,424.45 252.59,424.77 252.71,424.95 252.82,424.83 252.94,424.66 253.05,424.74 253.17,424.63 253.29,424.74 253.40,424.65 253.52,424.83 253.64,425.00 253.75,424.65 253.87,424.65 253.98,424.79 254.10,425.03 254.22,424.82 254.33,424.67 254.45,424.87 254.57,424.89 254.68,424.99 254.80,424.71 254.91,424.68 255.03,424.92 255.15,424.70 255.26,424.83 255.38,424.54 255.50,424.85 255.61,425.09 255.73,424.99 255.84,424.72 255.96,424.97 256.08,425.15 256.19,424.67 256.31,424.96 256.43,425.05 256.54,424.78 256.66,425.08 256.77,424.76 256.89,424.58 257.01,424.88 257.12,424.96 257.24,425.02 257.36,425.01 257.47,424.58 257.59,424.89 257.70,424.89 257.82,424.98 257.94,425.07 258.05,424.85 258.17,424.99 258.29,424.89 258.40,425.05 258.52,425.01 258.63,425.02 258.75,425.16 258.87,424.98 258.98,424.85 259.10,425.10 259.22,425.01 259.33,425.07 259.45,424.79 259.56,424.96 259.68,425.26 259.80,424.91 259.91,424.78 260.03,424.83 260.15,424.77 260.26,424.88 260.38,424.87 260.49,424.99 260.61,425.01 260.73,424.93 260.84,424.77 260.96,424.78 261.08,425.00 261.19,425.07 261.31,424.79 261.42,424.93 261.54,425.09 261.66,424.91 261.77,424.97 261.89,425.11 262.01,425.08 262.12,425.14 262.24,424.85" fill="none" stroke="#0a0a0a" stroke-width="1.80" stroke-linejoin="round"/>
<text class="tag" x="75.6" y="257.0" text-anchor="middle">(c)</text>
<text class="lb b" x="107.1" y="351.0" text-anchor="middle">(100)</text>
<text class="lb b" x="134.2" y="279.7" text-anchor="middle">(110)</text>
<text class="lb b" x="148.0" y="260.0" text-anchor="middle">(101)</text>
<text class="lb b" x="183.6" y="317.2" text-anchor="middle">(021)</text>
<text class="lb b" x="212.6" y="306.6" text-anchor="middle">(12<tspan class="ov">1</tspan>)</text>
<text class="lb b" x="173.0" y="379.2" text-anchor="middle">(111)</text>
<text class="lb b" x="201.5" y="400.7" text-anchor="middle">(002)</text>
<text class="lb b" x="234.0" y="400.2" text-anchor="middle">(112)</text>
<text class="lb b" x="160.0" y="407.7" text-anchor="middle">(200)</text>
<text class="lb b" x="196.5" y="411.7" text-anchor="middle">(120)</text>
<text class="lb b" x="225.0" y="415.2" text-anchor="middle">(012)</text>
<text class="lb b" x="244.0" y="408.2" text-anchor="middle">(220)</text>
<text class="lb r" x="169.0" y="416.2" text-anchor="middle">(111)</text>
<text class="lb b" x="250.5" y="415.7" text-anchor="middle">(202)</text>
<text class="lb b" x="258.0" y="422.7" text-anchor="middle">(130)</text>
<g fill="none" stroke-width="1.2">
<path d="M363.05 240.67H596.30" stroke="#5a5a5a" stroke-width="1.35"/>
<path d="M363.05 426.30H596.30" stroke="#1c1c1c" stroke-width="1.35"/>
<path d="M363.65 240.67V430.30" stroke="#2a2a2a"/>
<path d="M595.70 240.67V430.30" stroke="#262626"/>
<path d="M378.15 426.30v2.5M392.66 426.30v4.0M407.16 426.30v2.5M421.66 426.30v4.0M436.17 426.30v2.5M450.67 426.30v4.0M465.17 426.30v2.5M479.68 426.30v4.0M494.18 426.30v2.5M508.68 426.30v4.0M523.18 426.30v2.5M537.69 426.30v4.0M552.19 426.30v2.5M566.69 426.30v4.0M581.20 426.30v2.5" stroke="#1c1c1c"/>
<path d="M363.65 426.30h-4.5M363.65 415.39h-2.5M363.65 404.49h-4.5M363.65 393.58h-2.5M363.65 382.68h-4.5M363.65 371.77h-2.5M363.65 360.86h-4.5M363.65 349.96h-2.5M363.65 339.05h-4.5M363.65 328.14h-2.5M363.65 317.24h-4.5M363.65 306.33h-2.5M363.65 295.43h-4.5M363.65 284.52h-2.5M363.65 273.61h-4.5M363.65 262.71h-2.5M363.65 251.80h-4.5M363.65 240.89h-2.5" stroke="#2a2a2a"/>
</g>
<g class="tk">
<text transform="translate(363.05 443.60) scale(1 1.050)" text-anchor="middle">0</text>
<text transform="translate(392.06 443.60) scale(1 1.050)" text-anchor="middle">10</text>
<text transform="translate(421.06 443.60) scale(1 1.050)" text-anchor="middle">20</text>
<text transform="translate(450.07 443.60) scale(1 1.050)" text-anchor="middle">30</text>
<text transform="translate(479.07 443.60) scale(1 1.050)" text-anchor="middle">40</text>
<text transform="translate(508.08 443.60) scale(1 1.050)" text-anchor="middle">50</text>
<text transform="translate(537.09 443.60) scale(1 1.050)" text-anchor="middle">60</text>
<text transform="translate(566.09 443.60) scale(1 1.050)" text-anchor="middle">70</text>
<text transform="translate(595.10 443.60) scale(1 1.050)" text-anchor="middle">80</text>
<text transform="translate(356.30 431.40) scale(1 1.050)" text-anchor="end">0</text>
<text transform="translate(356.30 409.59) scale(1 1.050)" text-anchor="end">500</text>
<text transform="translate(356.30 387.78) scale(1 1.050)" text-anchor="end">1000</text>
<text transform="translate(356.30 365.96) scale(1 1.050)" text-anchor="end">1500</text>
<text transform="translate(356.30 344.15) scale(1 1.050)" text-anchor="end">2000</text>
<text transform="translate(356.30 322.34) scale(1 1.050)" text-anchor="end">2500</text>
<text transform="translate(356.30 300.53) scale(1 1.050)" text-anchor="end">3000</text>
<text transform="translate(356.30 278.71) scale(1 1.050)" text-anchor="end">3500</text>
<text transform="translate(356.30 256.90) scale(1 1.050)" text-anchor="end">4000</text>
</g>
<text class="ax" transform="translate(476.5 459.0) scale(1 1.050)" text-anchor="middle">2<tspan font-style="italic">θ</tspan>/degree</text>
<text class="ax" transform="translate(322.1 333.5) rotate(-90) scale(1 1.050)" text-anchor="middle">Intensity/a.u.</text>
<polyline points="378.15,424.90 378.27,424.59 378.39,424.87 378.50,425.00 378.62,424.96 378.73,425.09 378.85,425.78 378.97,425.07 379.08,425.02 379.20,425.30 379.31,425.04 379.43,425.12 379.55,424.96 379.66,425.05 379.78,424.53 379.89,424.37 380.01,424.45 380.13,425.05 380.24,425.52 380.36,424.86 380.47,425.23 380.59,425.35 380.71,424.87 380.82,424.83 380.94,425.03 381.05,424.09 381.17,424.92 381.29,425.10 381.40,424.69 381.52,424.64 381.63,425.16 381.75,424.65 381.87,425.32 381.98,425.60 382.10,425.23 382.21,424.53 382.33,425.34 382.45,425.87 382.56,425.39 382.68,424.71 382.79,424.67 382.91,424.88 383.03,424.86 383.14,424.66 383.26,424.32 383.37,424.67 383.49,425.46 383.61,424.26 383.72,424.51 383.84,425.50 383.95,425.69 384.07,425.29 384.19,424.14 384.30,424.60 384.42,426.07 384.53,425.00 384.65,424.75 384.77,425.21 384.88,424.61 385.00,425.93 385.11,424.91 385.23,424.92 385.35,424.75 385.46,425.26 385.58,424.56 385.69,425.54 385.81,424.76 385.93,425.21 386.04,424.77 386.16,424.15 386.27,425.33 386.39,425.35 386.51,424.98 386.62,425.55 386.74,425.23 386.86,424.50 386.97,425.30 387.09,424.70 387.20,424.73 387.32,426.10 387.44,425.86 387.55,424.93 387.67,424.49 387.78,424.99 387.90,425.05 388.02,425.46 388.13,424.95 388.25,425.11 388.36,424.48 388.48,424.29 388.60,424.83 388.71,426.10 388.83,424.96 388.94,424.55 389.06,425.07 389.18,424.20 389.29,425.37 389.41,425.76 389.52,424.49 389.64,425.28 389.76,425.46 389.87,425.10 389.99,425.49 390.10,425.11 390.22,425.32 390.34,425.16 390.45,424.46 390.57,425.46 390.68,424.77 390.80,424.65 390.92,425.15 391.03,425.58 391.15,424.66 391.26,424.48 391.38,425.20 391.50,425.21 391.61,425.12 391.73,424.88 391.84,424.88 391.96,425.08 392.08,424.57 392.19,424.70 392.31,425.10 392.42,424.32 392.54,424.54 392.66,424.09 392.77,425.17 392.89,424.18 393.00,425.03 393.12,425.13 393.24,424.96 393.35,425.81 393.47,424.56 393.58,424.63 393.70,425.36 393.82,425.10 393.93,424.34 394.05,425.02 394.16,425.08 394.28,424.66 394.40,425.04 394.51,425.51 394.63,425.22 394.74,425.74 394.86,425.28 394.98,425.06 395.09,425.14 395.21,425.14 395.32,425.92 395.44,424.94 395.56,424.61 395.67,425.14 395.79,425.39 395.90,424.50 396.02,425.41 396.14,424.56 396.25,425.48 396.37,425.45 396.49,425.36 396.60,424.45 396.72,424.36 396.83,425.65 396.95,424.64 397.07,424.50 397.18,425.81 397.30,425.18 397.41,425.36 397.53,424.27 397.65,425.37 397.76,425.94 397.88,425.50 397.99,424.66 398.11,425.48 398.23,424.48 398.34,424.79 398.46,424.54 398.57,425.34 398.69,424.73 398.81,425.26 398.92,425.08 399.04,425.17 399.15,424.68 399.27,425.13 399.39,424.08 399.50,425.58 399.62,424.96 399.73,424.72 399.85,425.15 399.97,423.94 400.08,424.89 400.20,424.43 400.31,424.59 400.43,424.83 400.55,425.46 400.66,425.50 400.78,425.47 400.89,425.00 401.01,424.99 401.13,424.38 401.24,425.70 401.36,425.50 401.47,424.53 401.59,424.31 401.71,424.83 401.82,424.95 401.94,424.03 402.05,425.03 402.17,425.03 402.29,424.47 402.40,424.37 402.52,425.26 402.63,424.28 402.75,425.11 402.87,424.54 402.98,424.72 403.10,425.62 403.21,424.66 403.33,425.13 403.45,425.16 403.56,425.19 403.68,424.91 403.79,425.33 403.91,425.25 404.03,425.22 404.14,424.41 404.26,424.97 404.37,425.35 404.49,424.14 404.61,424.78 404.72,425.14 404.84,425.40 404.95,425.06 405.07,424.24 405.19,425.19 405.30,425.29 405.42,425.26 405.54,424.50 405.65,424.33 405.77,424.69 405.88,424.52 406.00,425.41 406.12,424.70 406.23,425.71 406.35,424.66 406.46,425.85 406.58,425.86 406.70,425.03 406.81,424.98 406.93,424.61 407.04,425.32 407.16,424.14 407.28,425.66 407.39,424.60 407.51,424.65 407.62,424.98 407.74,425.32 407.86,424.56 407.97,424.65 408.09,425.19 408.20,424.25 408.32,423.35 408.44,425.13 408.55,423.98 408.67,423.93 408.78,424.53 408.90,423.94 409.02,424.03 409.13,424.41 409.25,423.99 409.36,424.87 409.48,425.03 409.60,424.79 409.71,424.56 409.83,423.38 409.94,425.45 410.06,423.84 410.18,424.60 410.29,423.78 410.41,423.40 410.52,424.20 410.64,423.67 410.76,423.09 410.87,423.73 410.99,424.07 411.10,423.33 411.22,422.65 411.34,422.77 411.45,422.65 411.57,420.80 411.68,420.34 411.80,418.61 411.92,415.18 412.03,409.30 412.15,400.37 412.26,389.44 412.38,374.83 412.50,358.34 412.61,340.48 412.73,323.64 412.84,312.68 412.96,308.52 413.08,312.45 413.19,324.80 413.31,340.71 413.42,358.75 413.54,374.81 413.66,389.01 413.77,400.49 413.89,408.67 414.00,415.12 414.12,418.15 414.24,419.46 414.35,421.16 414.47,421.40 414.58,422.38 414.70,422.05 414.82,423.56 414.93,424.24 415.05,424.29 415.17,424.26 415.28,424.00 415.40,424.20 415.51,423.75 415.63,424.15 415.75,423.90 415.86,423.46 415.98,424.22 416.09,425.33 416.21,424.15 416.33,424.03 416.44,423.83 416.56,424.27 416.67,424.30 416.79,424.42 416.91,424.06 417.02,423.80 417.14,425.53 417.25,424.72 417.37,424.39 417.49,425.12 417.60,424.31 417.72,424.34 417.83,424.39 417.95,424.41 418.07,424.70 418.18,424.80 418.30,424.70 418.41,424.72 418.53,424.61 418.65,424.51 418.76,425.06 418.88,424.82 418.99,424.78 419.11,425.22 419.23,424.78 419.34,424.85 419.46,425.31 419.57,424.78 419.69,424.84 419.81,425.86 419.92,425.03 420.04,425.15 420.15,425.52 420.27,425.24 420.39,424.40 420.50,424.03 420.62,424.94 420.73,424.92 420.85,425.35 420.97,425.50 421.08,425.12 421.20,425.11 421.31,424.60 421.43,423.91 421.55,425.12 421.66,425.13 421.78,424.40 421.89,425.52 422.01,423.80 422.13,424.47 422.24,424.72 422.36,424.65 422.47,424.63 422.59,425.06 422.71,424.83 422.82,424.53 422.94,424.61 423.05,425.44 423.17,425.16 423.29,424.91 423.40,425.33 423.52,424.72 423.63,425.47 423.75,425.02 423.87,424.78 423.98,425.12 424.10,424.76 424.22,425.49 424.33,424.83 424.45,424.24 424.56,424.51 424.68,423.82 424.80,425.73 424.91,424.86 425.03,424.90 425.14,424.50 425.26,424.52 425.38,425.38 425.49,424.77 425.61,425.36 425.72,425.22 425.84,425.14 425.96,425.04 426.07,425.81 426.19,424.45 426.30,425.63 426.42,424.89 426.54,424.73 426.65,424.88 426.77,424.50 426.88,425.20 427.00,424.92 427.12,425.09 427.23,424.58 427.35,425.57 427.46,424.97 427.58,424.51 427.70,423.84 427.81,424.38 427.93,425.54 428.04,425.27 428.16,424.45 428.28,425.28 428.39,425.43 428.51,424.67 428.62,424.88 428.74,425.07 428.86,424.50 428.97,425.73 429.09,425.85 429.20,424.37 429.32,425.81 429.44,425.24 429.55,425.46 429.67,425.10 429.78,425.50 429.90,425.03 430.02,424.56 430.13,424.81 430.25,425.12 430.36,425.42 430.48,424.58 430.60,426.10 430.71,426.00 430.83,425.12 430.94,425.24 431.06,424.43 431.18,424.54 431.29,425.83 431.41,425.32 431.52,425.80 431.64,424.56 431.76,425.47 431.87,425.14 431.99,425.07 432.10,424.29 432.22,424.66 432.34,425.47 432.45,424.88 432.57,424.42 432.68,425.65 432.80,425.27 432.92,423.98 433.03,424.30 433.15,424.76 433.27,424.91 433.38,424.84 433.50,425.20 433.61,425.78 433.73,424.09 433.85,424.91 433.96,425.44 434.08,424.51 434.19,425.44 434.31,424.19 434.43,424.82 434.54,424.85 434.66,425.67 434.77,424.86 434.89,424.33 435.01,424.66 435.12,425.17 435.24,424.89 435.35,425.04 435.47,424.79 435.59,424.79 435.70,425.22 435.82,424.52 435.93,424.62 436.05,424.93 436.17,424.95 436.28,425.01 436.40,425.09 436.51,425.45 436.63,425.32 436.75,425.15 436.86,424.10 436.98,425.57 437.09,425.30 437.21,424.87 437.33,424.59 437.44,425.03 437.56,425.32 437.67,425.59 437.79,425.13 437.91,424.67 438.02,424.83 438.14,424.71 438.25,424.73 438.37,424.62 438.49,424.96 438.60,425.73 438.72,424.34 438.83,424.29 438.95,424.76 439.07,426.00 439.18,425.49 439.30,424.08 439.41,424.12 439.53,425.20 439.65,424.83 439.76,425.44 439.88,424.55 439.99,425.03 440.11,425.36 440.23,425.83 440.34,424.51 440.46,425.34 440.57,424.86 440.69,424.08 440.81,424.82 440.92,423.99 441.04,423.97 441.15,424.52 441.27,424.43 441.39,424.73 441.50,424.92 441.62,425.70 441.73,424.24 441.85,425.04 441.97,425.04 442.08,424.45 442.20,425.61 442.31,424.94 442.43,424.51 442.55,425.59 442.66,424.84 442.78,425.20 442.90,425.16 443.01,425.18 443.13,425.76 443.24,424.86 443.36,424.77 443.48,425.30 443.59,425.26 443.71,425.42 443.82,424.97 443.94,424.91 444.06,424.28 444.17,423.96 444.29,424.83 444.40,424.58 444.52,425.49 444.64,425.93 444.75,424.85 444.87,424.86 444.98,424.93 445.10,425.31 445.22,425.23 445.33,425.22 445.45,424.54 445.56,424.99 445.68,424.58 445.80,424.59 445.91,424.05 446.03,424.96 446.14,425.39 446.26,425.34 446.38,424.78 446.49,424.80 446.61,424.23 446.72,423.94 446.84,425.07 446.96,424.67 447.07,424.05 447.19,424.31 447.30,423.36 447.42,424.34 447.54,423.85 447.65,425.04 447.77,424.49 447.88,423.37 448.00,423.06 448.12,423.66 448.23,424.37 448.35,423.29 448.46,422.88 448.58,422.83 448.70,422.65 448.81,422.11 448.93,421.33 449.04,419.11 449.16,415.69 449.28,407.49 449.39,394.12 449.51,373.47 449.62,345.62 449.74,315.91 449.86,293.40 449.97,288.80 450.09,302.83 450.20,329.93 450.32,359.66 450.44,384.45 450.55,400.95 450.67,411.18 450.78,416.71 450.90,419.00 451.02,420.81 451.13,420.75 451.25,420.60 451.36,419.40 451.48,419.05 451.60,416.56 451.71,412.45 451.83,400.99 451.95,382.41 452.06,354.81 452.18,320.23 452.29,286.62 452.41,263.72 452.53,263.83 452.64,284.85 452.76,320.01 452.87,355.36 452.99,382.58 453.11,401.35 453.22,412.22 453.34,417.48 453.45,419.72 453.57,421.13 453.69,421.46 453.80,423.27 453.92,422.80 454.03,422.57 454.15,424.17 454.27,424.05 454.38,423.10 454.50,424.00 454.61,423.56 454.73,424.19 454.85,424.01 454.96,424.20 455.08,424.39 455.19,424.29 455.31,424.73 455.43,424.69 455.54,424.08 455.66,424.61 455.77,424.07 455.89,425.10 456.01,423.79 456.12,425.56 456.24,423.86 456.35,424.70 456.47,424.51 456.59,424.78 456.70,425.27 456.82,424.88 456.93,424.29 457.05,424.77 457.17,423.95 457.28,424.85 457.40,424.89 457.51,424.19 457.63,424.82 457.75,424.67 457.86,424.30 457.98,424.19 458.09,423.83 458.21,424.54 458.33,425.13 458.44,425.42 458.56,424.96 458.67,425.38 458.79,423.96 458.91,424.87 459.02,425.02 459.14,425.27 459.25,424.39 459.37,425.17 459.49,425.47 459.60,424.26 459.72,424.62 459.83,423.94 459.95,424.87 460.07,424.08 460.18,424.95 460.30,424.88 460.41,424.84 460.53,425.81 460.65,424.46 460.76,424.58 460.88,425.31 460.99,424.84 461.11,425.02 461.23,425.58 461.34,424.45 461.46,425.07 461.58,425.15 461.69,425.16 461.81,425.16 461.92,425.40 462.04,424.12 462.16,424.69 462.27,424.71 462.39,426.10 462.50,423.76 462.62,424.10 462.74,424.99 462.85,423.95 462.97,423.66 463.08,421.22 463.20,419.89 463.32,416.31 463.43,413.48 463.55,410.47 463.66,409.60 463.78,408.68 463.90,411.14 464.01,413.83 464.13,417.02 464.24,420.29 464.36,421.14 464.48,423.17 464.59,423.66 464.71,424.64 464.82,424.78 464.94,424.56 465.06,425.05 465.17,424.44 465.29,424.18 465.40,425.04 465.52,424.86 465.64,423.94 465.75,424.91 465.87,425.18 465.98,425.29 466.10,424.62 466.22,424.02 466.33,425.10 466.45,425.02 466.56,424.62 466.68,425.27 466.80,424.97 466.91,424.53 467.03,425.00 467.14,424.70 467.26,424.97 467.38,424.52 467.49,425.09 467.61,424.07 467.72,425.07 467.84,425.65 467.96,424.94 468.07,424.63 468.19,425.16 468.30,424.71 468.42,424.67 468.54,425.10 468.65,424.59 468.77,426.10 468.88,424.09 469.00,424.63 469.12,425.42 469.23,425.36 469.35,424.67 469.46,424.25 469.58,424.51 469.70,425.19 469.81,425.89 469.93,425.32 470.04,425.10 470.16,424.91 470.28,425.46 470.39,425.28 470.51,424.88 470.63,425.05 470.74,425.18 470.86,424.76 470.97,424.25 471.09,424.48 471.21,423.75 471.32,425.53 471.44,425.36 471.55,425.17 471.67,424.36 471.79,424.59 471.90,425.55 472.02,425.90 472.13,424.57 472.25,424.92 472.37,424.54 472.48,424.89 472.60,424.33 472.71,424.54 472.83,424.45 472.95,425.17 473.06,424.59 473.18,425.31 473.29,424.31 473.41,425.45 473.53,424.70 473.64,425.23 473.76,425.42 473.87,424.67 473.99,424.41 474.11,424.76 474.22,424.83 474.34,425.40 474.45,424.69 474.57,424.86 474.69,424.80 474.80,424.26 474.92,425.42 475.03,424.76 475.15,424.68 475.27,423.03 475.38,424.60 475.50,423.67 475.61,422.77 475.73,422.32 475.85,422.63 475.96,422.53 476.08,423.11 476.19,422.89 476.31,423.98 476.43,424.07 476.54,423.88 476.66,424.08 476.77,422.89 476.89,425.04 477.01,424.57 477.12,424.39 477.24,423.19 477.35,422.31 477.47,421.93 477.59,418.57 477.70,415.51 477.82,409.72 477.93,404.81 478.05,401.16 478.17,400.13 478.28,401.88 478.40,407.19 478.51,413.20 478.63,416.89 478.75,420.42 478.86,421.69 478.98,423.05 479.09,423.80 479.21,424.14 479.33,424.14 479.44,424.85 479.56,424.43 479.68,424.51 479.79,425.63 479.91,425.45 480.02,424.07 480.14,424.24 480.26,425.40 480.37,424.35 480.49,424.76 480.60,425.25 480.72,424.57 480.84,424.63 480.95,424.78 481.07,425.46 481.18,424.99 481.30,424.80 481.42,424.84 481.53,424.70 481.65,425.18 481.76,423.89 481.88,425.22 482.00,424.10 482.11,425.63 482.23,424.11 482.34,424.93 482.46,424.87 482.58,425.65 482.69,424.51 482.81,425.21 482.92,424.24 483.04,424.33 483.16,424.11 483.27,424.02 483.39,425.10 483.50,424.38 483.62,424.42 483.74,424.53 483.85,424.34 483.97,424.09 484.08,425.01 484.20,425.25 484.32,424.50 484.43,423.51 484.55,424.78 484.66,424.11 484.78,424.90 484.90,423.88 485.01,424.62 485.13,424.28 485.24,424.86 485.36,424.06 485.48,423.94 485.59,423.97 485.71,424.28 485.82,425.16 485.94,424.31 486.06,424.70 486.17,424.75 486.29,424.62 486.40,424.46 486.52,423.55 486.64,423.94 486.75,422.58 486.87,423.89 486.98,423.88 487.10,423.24 487.22,423.92 487.33,423.33 487.45,423.56 487.56,422.96 487.68,422.43 487.80,422.84 487.91,421.84 488.03,421.39 488.14,419.68 488.26,416.88 488.38,411.80 488.49,403.73 488.61,392.94 488.72,379.27 488.84,359.08 488.96,338.61 489.07,316.80 489.19,301.89 489.31,294.16 489.42,296.69 489.54,308.10 489.65,327.66 489.77,348.47 489.89,368.51 490.00,385.69 490.12,398.88 490.23,407.55 490.35,415.47 490.47,417.79 490.58,420.71 490.70,421.57 490.81,421.75 490.93,422.70 491.05,422.68 491.16,423.22 491.28,422.75 491.39,422.89 491.51,424.47 491.63,423.79 491.74,424.00 491.86,423.29 491.97,423.51 492.09,423.91 492.21,423.53 492.32,423.81 492.44,423.92 492.55,424.63 492.67,423.63 492.79,424.49 492.90,424.69 493.02,423.58 493.13,424.26 493.25,423.21 493.37,425.02 493.48,424.06 493.60,424.24 493.71,424.57 493.83,424.29 493.95,424.39 494.06,424.79 494.18,424.53 494.29,424.82 494.41,424.64 494.53,424.21 494.64,424.04 494.76,425.17 494.87,424.74 494.99,425.33 495.11,424.33 495.22,423.64 495.34,424.43 495.45,424.71 495.57,424.77 495.69,424.35 495.80,424.51 495.92,423.17 496.03,423.70 496.15,423.87 496.27,423.14 496.38,422.53 496.50,422.21 496.61,421.43 496.73,421.19 496.85,419.10 496.96,418.37 497.08,416.05 497.19,415.19 497.31,412.22 497.43,410.40 497.54,408.97 497.66,407.85 497.77,408.86 497.89,409.92 498.01,412.34 498.12,413.98 498.24,416.59 498.36,417.55 498.47,419.50 498.59,420.50 498.70,420.77 498.82,420.62 498.94,421.92 499.05,422.18 499.17,421.56 499.28,421.25 499.40,421.12 499.52,420.78 499.63,420.32 499.75,419.83 499.86,421.64 499.98,420.89 500.10,421.80 500.21,421.25 500.33,422.96 500.44,422.97 500.56,422.86 500.68,422.90 500.79,423.84 500.91,424.72 501.02,423.76 501.14,424.17 501.26,424.65 501.37,424.33 501.49,424.43 501.60,424.91 501.72,424.29 501.84,424.57 501.95,423.89 502.07,424.78 502.18,425.30 502.30,424.66 502.42,424.82 502.53,424.28 502.65,425.37 502.76,425.09 502.88,424.18 503.00,424.64 503.11,424.13 503.23,424.13 503.34,424.84 503.46,424.66 503.58,425.18 503.69,424.49 503.81,424.73 503.92,424.96 504.04,425.14 504.16,424.54 504.27,424.74 504.39,424.97 504.50,424.71 504.62,424.48 504.74,425.40 504.85,425.25 504.97,425.03 505.08,424.25 505.20,425.54 505.32,424.33 505.43,424.53 505.55,424.97 505.66,424.98 505.78,424.98 505.90,424.38 506.01,424.83 506.13,424.52 506.24,425.34 506.36,424.46 506.48,424.77 506.59,424.60 506.71,425.57 506.82,423.69 506.94,425.07 507.06,425.75 507.17,424.42 507.29,424.75 507.40,425.21 507.52,425.43 507.64,424.14 507.75,424.64 507.87,425.14 507.99,425.57 508.10,424.71 508.22,423.82 508.33,424.95 508.45,424.82 508.57,425.31 508.68,424.83 508.80,425.34 508.91,425.10 509.03,424.84 509.15,424.82 509.26,424.61 509.38,424.44 509.49,425.52 509.61,425.08 509.73,425.28 509.84,424.74 509.96,424.91 510.07,425.16 510.19,424.16 510.31,425.02 510.42,425.08 510.54,424.00 510.65,424.63 510.77,424.65 510.89,424.66 511.00,424.56 511.12,424.80 511.23,424.26 511.35,424.72 511.47,423.88 511.58,423.68 511.70,424.73 511.81,425.22 511.93,424.22 512.05,423.97 512.16,424.79 512.28,424.50 512.39,424.39 512.51,424.03 512.63,424.28 512.74,423.62 512.86,424.01 512.97,423.48 513.09,423.89 513.21,423.49 513.32,422.14 513.44,421.14 513.55,419.40 513.67,414.94 513.79,410.70 513.90,404.46 514.02,399.87 514.13,397.48 514.25,397.16 514.37,400.35 514.48,404.77 514.60,411.00 514.71,415.79 514.83,418.36 514.95,420.75 515.06,421.43 515.18,422.35 515.29,422.05 515.41,422.35 515.53,421.90 515.64,422.19 515.76,422.47 515.87,420.78 515.99,419.55 516.11,414.86 516.22,409.50 516.34,403.17 516.45,394.78 516.57,383.60 516.69,373.54 516.80,365.89 516.92,361.47 517.04,362.86 517.15,369.03 517.27,377.85 517.38,387.49 517.50,397.17 517.62,404.69 517.73,408.23 517.85,408.91 517.96,407.54 518.08,400.79 518.20,390.73 518.31,376.88 518.43,360.57 518.54,343.34 518.66,329.50 518.78,321.06 518.89,321.01 519.01,330.06 519.12,344.02 519.24,361.23 519.36,378.69 519.47,391.50 519.59,403.58 519.70,411.44 519.82,415.59 519.94,418.45 520.05,421.72 520.17,423.11 520.28,421.64 520.40,422.69 520.52,423.40 520.63,424.04 520.75,422.82 520.86,422.82 520.98,423.40 521.10,423.18 521.21,424.77 521.33,423.73 521.44,424.15 521.56,423.77 521.68,424.17 521.79,423.99 521.91,424.00 522.02,423.76 522.14,422.87 522.26,421.86 522.37,420.02 522.49,417.46 522.60,413.55 522.72,409.83 522.84,406.22 522.95,403.90 523.07,403.92 523.18,405.41 523.30,408.05 523.42,412.00 523.53,415.42 523.65,418.66 523.76,420.71 523.88,422.17 524.00,423.19 524.11,423.90 524.23,424.11 524.34,424.71 524.46,425.01 524.58,423.78 524.69,425.21 524.81,424.77 524.92,424.83 525.04,424.74 525.16,424.65 525.27,425.51 525.39,423.86 525.50,423.61 525.62,424.99 525.74,425.40 525.85,424.41 525.97,424.65 526.09,424.56 526.20,425.37 526.32,425.17 526.43,424.81 526.55,425.84 526.67,425.34 526.78,424.38 526.90,424.79 527.01,424.76 527.13,425.53 527.25,425.47 527.36,424.96 527.48,424.46 527.59,425.27 527.71,424.80 527.83,425.49 527.94,425.45 528.06,425.29 528.17,425.05 528.29,424.74 528.41,425.25 528.52,426.03 528.64,425.35 528.75,425.15 528.87,424.73 528.99,424.99 529.10,425.50 529.22,424.57 529.33,425.45 529.45,425.04 529.57,425.01 529.68,424.94 529.80,424.56 529.91,425.00 530.03,424.57 530.15,424.89 530.26,424.56 530.38,424.50 530.49,425.78 530.61,424.79 530.73,425.40 530.84,425.40 530.96,425.10 531.07,425.06 531.19,425.36 531.31,425.50 531.42,424.69 531.54,425.58 531.65,424.12 531.77,425.25 531.89,425.59 532.00,425.33 532.12,424.46 532.23,425.57 532.35,424.87 532.47,423.48 532.58,425.22 532.70,425.45 532.81,424.83 532.93,423.78 533.05,424.77 533.16,424.81 533.28,424.83 533.39,425.60 533.51,425.13 533.63,424.60 533.74,425.03 533.86,424.16 533.97,425.17 534.09,425.44 534.21,425.55 534.32,423.70 534.44,424.13 534.55,424.98 534.67,424.55 534.79,424.17 534.90,424.79 535.02,424.52 535.13,425.49 535.25,425.71 535.37,424.54 535.48,425.22 535.60,424.23 535.72,425.22 535.83,424.18 535.95,425.13 536.06,424.99 536.18,424.91 536.30,425.00 536.41,425.02 536.53,424.79 536.64,425.01 536.76,425.11 536.88,425.35 536.99,425.14 537.11,425.48 537.22,424.74 537.34,425.35 537.46,425.27 537.57,425.01 537.69,424.87 537.80,424.42 537.92,424.76 538.04,424.84 538.15,424.88 538.27,424.74 538.38,424.85 538.50,423.91 538.62,424.48 538.73,424.97 538.85,424.23 538.96,423.60 539.08,422.75 539.20,422.20 539.31,420.21 539.43,419.47 539.54,415.16 539.66,412.63 539.78,408.37 539.89,404.14 540.01,401.93 540.12,397.95 540.24,398.47 540.36,399.13 540.47,402.32 540.59,406.05 540.70,409.78 540.82,414.11 540.94,416.69 541.05,419.08 541.17,421.21 541.28,421.17 541.40,421.55 541.52,421.54 541.63,419.41 541.75,417.32 541.86,414.59 541.98,413.21 542.10,409.33 542.21,407.50 542.33,407.55 542.44,408.04 542.56,409.42 542.68,412.45 542.79,414.58 542.91,418.23 543.02,419.51 543.14,421.87 543.26,423.00 543.37,422.42 543.49,422.01 543.60,421.79 543.72,420.88 543.84,419.45 543.95,417.82 544.07,417.05 544.18,415.52 544.30,414.14 544.42,414.82 544.53,415.36 544.65,417.34 544.77,418.71 544.88,419.99 545.00,421.17 545.11,422.08 545.23,423.15 545.35,424.28 545.46,422.65 545.58,424.57 545.69,424.49 545.81,425.04 545.93,424.07 546.04,424.59 546.16,424.49 546.27,424.56 546.39,425.00 546.51,425.57 546.62,425.24 546.74,424.05 546.85,424.52 546.97,424.78 547.09,424.31 547.20,424.69 547.32,424.29 547.43,424.53 547.55,424.87 547.67,424.16 547.78,423.71 547.90,423.60 548.01,423.22 548.13,421.50 548.25,420.24 548.36,419.56 548.48,418.51 548.59,418.46 548.71,419.34 548.83,421.12 548.94,420.84 549.06,422.36 549.17,422.85 549.29,423.42 549.41,424.56 549.52,425.72 549.64,424.31 549.75,425.12 549.87,424.78 549.99,424.58 550.10,424.99 550.22,423.68 550.33,423.21 550.45,422.87 550.57,422.81 550.68,421.24 550.80,420.31 550.91,418.15 551.03,418.92 551.15,418.80 551.26,420.51 551.38,421.25 551.49,421.38 551.61,422.70 551.73,423.15 551.84,424.79 551.96,424.60 552.07,424.23 552.19,424.67 552.31,424.20 552.42,423.80 552.54,423.65 552.65,423.18 552.77,423.45 552.89,422.66 553.00,422.53 553.12,422.83 553.23,422.01 553.35,423.25 553.47,422.89 553.58,423.90 553.70,423.63 553.81,424.29 553.93,425.64 554.05,424.78 554.16,424.55 554.28,425.12 554.40,424.66 554.51,425.25 554.63,424.62 554.74,425.12 554.86,423.99 554.98,424.01 555.09,425.91 555.21,424.92 555.32,424.99 555.44,423.86 555.56,424.24 555.67,425.07 555.79,425.29 555.90,424.64 556.02,424.63 556.14,424.47 556.25,425.14 556.37,424.10 556.48,424.95 556.60,426.10 556.72,426.02 556.83,424.33 556.95,424.67 557.06,425.74 557.18,424.08 557.30,425.55 557.41,426.10 557.53,424.75 557.64,425.14 557.76,424.43 557.88,425.49 557.99,424.81 558.11,424.91 558.22,425.28 558.34,425.24 558.46,424.42 558.57,424.69 558.69,424.73 558.80,425.94 558.92,425.28 559.04,424.37 559.15,425.67 559.27,424.84 559.38,424.70 559.50,425.24 559.62,423.62 559.73,425.60 559.85,425.55 559.96,425.26 560.08,425.21 560.20,424.97 560.31,425.76 560.43,424.62 560.54,425.31 560.66,424.42 560.78,424.65 560.89,424.84 561.01,426.06 561.12,424.28 561.24,424.78 561.36,424.44 561.47,424.72 561.59,424.70 561.70,425.59 561.82,425.71 561.94,425.17 562.05,425.41 562.17,424.86 562.28,424.31 562.40,425.31 562.52,425.12 562.63,425.32 562.75,423.82 562.86,425.62 562.98,424.54 563.10,425.68 563.21,424.66 563.33,424.38 563.45,424.70 563.56,424.56 563.68,424.47 563.79,424.58 563.91,424.89 564.03,425.48 564.14,424.75 564.26,424.45 564.37,424.35 564.49,424.73 564.61,425.24 564.72,424.59 564.84,425.37 564.95,424.84 565.07,424.82 565.19,424.82 565.30,424.49 565.42,425.31 565.53,424.46 565.65,425.39 565.77,425.09 565.88,424.70 566.00,425.03 566.11,424.97 566.23,425.17 566.35,424.11 566.46,425.56 566.58,424.95 566.69,425.20" fill="none" stroke="#0a0a0a" stroke-width="1.75" stroke-linejoin="round"/>
<text class="tag" x="382.0" y="257.0" text-anchor="middle">(d)</text>
<text class="lb b" x="414.0" y="304.9" text-anchor="middle">(100)</text>
<text class="lb b" x="440.8" y="285.0" text-anchor="middle">(110)</text>
<text class="lb b" x="455.0" y="261.0" text-anchor="middle">(101)</text>
<text class="lb b" x="489.3" y="291.5" text-anchor="middle">(021)</text>
<text class="lb b" x="517.0" y="315.2" text-anchor="middle">(12<tspan class="ov">1</tspan>)</text>
<text class="lb b" x="507.3" y="367.0" text-anchor="middle">(300)</text>
<text class="lb b" x="478.4" y="398.1" text-anchor="middle">(111)</text>
<text class="lb b" x="505.8" y="396.3" text-anchor="middle">(002)</text>
<text class="lb b" x="541.9" y="395.9" text-anchor="middle">(112)</text>
<text class="lb b" x="464.8" y="407.7" text-anchor="middle">(200)</text>
<text class="lb b" x="500.3" y="408.2" text-anchor="middle">(120)</text>
<text class="lb b" x="529.8" y="403.9" text-anchor="middle">(012)</text>
<text class="lb b" x="553.0" y="407.1" text-anchor="middle">(220)</text>
<text class="lb b" x="554.7" y="415.6" text-anchor="middle">(202)</text>
<text class="lb b" x="563.8" y="423.0" text-anchor="middle">(130)</text></g>
</svg>
</body></html>
